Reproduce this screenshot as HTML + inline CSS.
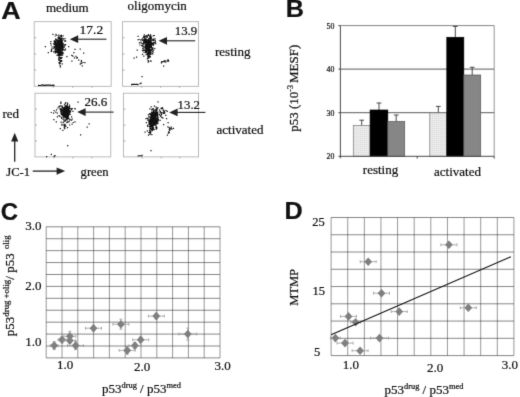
<!DOCTYPE html>
<html><head><meta charset="utf-8"><title>Figure</title>
<style>html,body{margin:0;padding:0;background:#fff;}svg{display:block;}text{font-family:"Liberation Serif", serif;fill:#111;stroke:#111;stroke-width:0.22px;}</style>
</head><body>
<svg width="520" height="397" viewBox="0 0 520 397">
<defs><filter id="soft" x="0" y="0" width="520" height="397" filterUnits="userSpaceOnUse" color-interpolation-filters="sRGB"><feConvolveMatrix order="3" kernelMatrix="0.0113 0.0838 0.0113 0.0838 0.6193 0.0838 0.0113 0.0838 0.0113" edgeMode="duplicate" preserveAlpha="true"/></filter></defs>
<g filter="url(#soft)">
<rect x="0" y="0" width="520" height="397" fill="#ffffff"/>
<text transform="translate(1.3,18.6) scale(1.12,1)" font-size="24" font-weight="bold" style='font-family:"Liberation Sans", sans-serif' fill="#000">A</text>
<text transform="translate(285.8,17.0) scale(1.05,1)" font-size="24" font-weight="bold" style='font-family:"Liberation Sans", sans-serif' fill="#000">B</text>
<text transform="translate(0.8,219.7) scale(1.00,1)" font-size="24" font-weight="bold" style='font-family:"Liberation Sans", sans-serif' fill="#000">C</text>
<text transform="translate(284.4,218.7) scale(1.05,1)" font-size="24" font-weight="bold" style='font-family:"Liberation Sans", sans-serif' fill="#000">D</text>
<rect x="34.2" y="21.7" width="77.0" height="64.6" fill="none" stroke="#aaaaaa" stroke-width="0.8"/>
<line x1="34.2" y1="37.8" x2="36.2" y2="37.8" stroke="#888" stroke-width="0.7"/>
<line x1="53.5" y1="86.3" x2="53.5" y2="87.8" stroke="#888" stroke-width="0.7"/>
<line x1="34.2" y1="54.0" x2="36.2" y2="54.0" stroke="#888" stroke-width="0.7"/>
<line x1="72.7" y1="86.3" x2="72.7" y2="87.8" stroke="#888" stroke-width="0.7"/>
<line x1="34.2" y1="70.1" x2="36.2" y2="70.1" stroke="#888" stroke-width="0.7"/>
<line x1="92.0" y1="86.3" x2="92.0" y2="87.8" stroke="#888" stroke-width="0.7"/>
<rect x="122.6" y="21.7" width="76.0" height="64.6" fill="none" stroke="#aaaaaa" stroke-width="0.8"/>
<line x1="122.6" y1="37.8" x2="124.6" y2="37.8" stroke="#888" stroke-width="0.7"/>
<line x1="141.6" y1="86.3" x2="141.6" y2="87.8" stroke="#888" stroke-width="0.7"/>
<line x1="122.6" y1="54.0" x2="124.6" y2="54.0" stroke="#888" stroke-width="0.7"/>
<line x1="160.6" y1="86.3" x2="160.6" y2="87.8" stroke="#888" stroke-width="0.7"/>
<line x1="122.6" y1="70.1" x2="124.6" y2="70.1" stroke="#888" stroke-width="0.7"/>
<line x1="179.6" y1="86.3" x2="179.6" y2="87.8" stroke="#888" stroke-width="0.7"/>
<rect x="35.0" y="93.2" width="75.8" height="63.7" fill="none" stroke="#aaaaaa" stroke-width="0.8"/>
<line x1="35.0" y1="109.1" x2="37.0" y2="109.1" stroke="#888" stroke-width="0.7"/>
<line x1="54.0" y1="156.9" x2="54.0" y2="158.4" stroke="#888" stroke-width="0.7"/>
<line x1="35.0" y1="125.1" x2="37.0" y2="125.1" stroke="#888" stroke-width="0.7"/>
<line x1="72.9" y1="156.9" x2="72.9" y2="158.4" stroke="#888" stroke-width="0.7"/>
<line x1="35.0" y1="141.0" x2="37.0" y2="141.0" stroke="#888" stroke-width="0.7"/>
<line x1="91.8" y1="156.9" x2="91.8" y2="158.4" stroke="#888" stroke-width="0.7"/>
<rect x="123.5" y="93.2" width="75.1" height="63.7" fill="none" stroke="#aaaaaa" stroke-width="0.8"/>
<line x1="123.5" y1="109.1" x2="125.5" y2="109.1" stroke="#888" stroke-width="0.7"/>
<line x1="142.3" y1="156.9" x2="142.3" y2="158.4" stroke="#888" stroke-width="0.7"/>
<line x1="123.5" y1="125.1" x2="125.5" y2="125.1" stroke="#888" stroke-width="0.7"/>
<line x1="161.1" y1="156.9" x2="161.1" y2="158.4" stroke="#888" stroke-width="0.7"/>
<line x1="123.5" y1="141.0" x2="125.5" y2="141.0" stroke="#888" stroke-width="0.7"/>
<line x1="179.8" y1="156.9" x2="179.8" y2="158.4" stroke="#888" stroke-width="0.7"/>
<path d="M58.1 47.2h1.2v1.2h-1.2zM58.1 44.0h1.2v1.2h-1.2zM56.6 44.4h1.2v1.2h-1.2zM60.9 46.9h1.2v1.2h-1.2zM60.8 46.2h1.2v1.2h-1.2zM59.4 45.9h1.2v1.2h-1.2zM55.1 48.5h1.2v1.2h-1.2zM59.7 47.1h1.2v1.2h-1.2zM55.0 38.4h1.2v1.2h-1.2zM56.7 43.4h1.2v1.2h-1.2zM59.2 45.0h1.2v1.2h-1.2zM59.7 42.7h1.2v1.2h-1.2zM59.2 46.7h1.2v1.2h-1.2zM57.2 51.9h1.2v1.2h-1.2zM59.8 49.9h1.2v1.2h-1.2zM57.3 42.3h1.2v1.2h-1.2zM57.9 44.8h1.2v1.2h-1.2zM59.9 46.2h1.2v1.2h-1.2zM57.7 41.5h1.2v1.2h-1.2zM57.5 50.0h1.2v1.2h-1.2zM56.9 46.2h1.2v1.2h-1.2zM59.5 39.4h1.2v1.2h-1.2zM58.7 50.3h1.2v1.2h-1.2zM54.4 43.9h1.2v1.2h-1.2zM58.4 42.0h1.2v1.2h-1.2zM59.6 45.0h1.2v1.2h-1.2zM55.5 48.4h1.2v1.2h-1.2zM60.0 48.9h1.2v1.2h-1.2zM61.6 46.6h1.2v1.2h-1.2zM58.9 40.1h1.2v1.2h-1.2zM59.9 42.8h1.2v1.2h-1.2zM57.6 40.3h1.2v1.2h-1.2zM56.6 43.1h1.2v1.2h-1.2zM61.3 37.3h1.2v1.2h-1.2zM55.5 46.1h1.2v1.2h-1.2zM61.6 47.5h1.2v1.2h-1.2zM54.6 35.4h1.2v1.2h-1.2zM59.4 42.3h1.2v1.2h-1.2zM56.2 49.0h1.2v1.2h-1.2zM60.9 45.8h1.2v1.2h-1.2zM59.1 46.9h1.2v1.2h-1.2zM61.9 47.6h1.2v1.2h-1.2zM59.7 47.3h1.2v1.2h-1.2zM55.3 50.2h1.2v1.2h-1.2zM60.6 47.3h1.2v1.2h-1.2zM54.5 42.7h1.2v1.2h-1.2zM60.4 38.1h1.2v1.2h-1.2zM58.2 49.2h1.2v1.2h-1.2zM55.8 51.5h1.2v1.2h-1.2zM59.8 44.6h1.2v1.2h-1.2zM59.3 47.7h1.2v1.2h-1.2zM58.9 49.7h1.2v1.2h-1.2zM57.2 43.6h1.2v1.2h-1.2zM60.8 45.3h1.2v1.2h-1.2zM56.8 48.9h1.2v1.2h-1.2zM61.7 43.5h1.2v1.2h-1.2zM55.7 44.7h1.2v1.2h-1.2zM58.3 44.0h1.2v1.2h-1.2zM61.6 41.2h1.2v1.2h-1.2zM61.2 40.3h1.2v1.2h-1.2zM56.9 47.7h1.2v1.2h-1.2zM61.0 48.6h1.2v1.2h-1.2zM59.3 45.8h1.2v1.2h-1.2zM58.9 47.4h1.2v1.2h-1.2zM58.2 46.3h1.2v1.2h-1.2zM59.8 45.2h1.2v1.2h-1.2zM60.2 47.4h1.2v1.2h-1.2zM62.8 46.5h1.2v1.2h-1.2zM57.7 43.7h1.2v1.2h-1.2zM58.6 48.8h1.2v1.2h-1.2zM57.9 46.7h1.2v1.2h-1.2zM62.5 35.2h1.2v1.2h-1.2zM56.2 46.2h1.2v1.2h-1.2zM59.4 46.1h1.2v1.2h-1.2zM57.7 47.8h1.2v1.2h-1.2zM59.2 43.2h1.2v1.2h-1.2zM63.7 46.6h1.2v1.2h-1.2zM57.4 44.8h1.2v1.2h-1.2zM58.1 45.0h1.2v1.2h-1.2zM52.9 43.3h1.2v1.2h-1.2zM60.7 40.6h1.2v1.2h-1.2zM58.5 48.9h1.2v1.2h-1.2zM60.4 51.0h1.2v1.2h-1.2zM55.0 43.8h1.2v1.2h-1.2zM57.9 47.6h1.2v1.2h-1.2zM60.9 34.7h1.2v1.2h-1.2zM60.9 39.6h1.2v1.2h-1.2zM60.0 39.4h1.2v1.2h-1.2zM59.0 49.9h1.2v1.2h-1.2zM58.3 45.9h1.2v1.2h-1.2zM60.3 45.8h1.2v1.2h-1.2zM58.4 51.2h1.2v1.2h-1.2zM60.8 44.1h1.2v1.2h-1.2zM64.4 40.7h1.2v1.2h-1.2zM60.5 44.2h1.2v1.2h-1.2zM58.9 47.9h1.2v1.2h-1.2zM59.1 47.7h1.2v1.2h-1.2zM55.4 39.3h1.2v1.2h-1.2zM59.9 41.4h1.2v1.2h-1.2zM56.4 39.5h1.2v1.2h-1.2zM61.3 48.1h1.2v1.2h-1.2zM61.7 41.5h1.2v1.2h-1.2zM58.6 40.8h1.2v1.2h-1.2zM60.2 51.4h1.2v1.2h-1.2zM56.7 51.3h1.2v1.2h-1.2zM60.7 44.5h1.2v1.2h-1.2zM54.5 50.7h1.2v1.2h-1.2zM58.4 42.8h1.2v1.2h-1.2zM59.4 46.8h1.2v1.2h-1.2zM61.7 41.2h1.2v1.2h-1.2zM61.0 51.0h1.2v1.2h-1.2zM61.6 44.5h1.2v1.2h-1.2zM57.0 49.2h1.2v1.2h-1.2zM58.8 45.7h1.2v1.2h-1.2zM61.6 44.2h1.2v1.2h-1.2zM53.8 43.7h1.2v1.2h-1.2zM54.7 48.4h1.2v1.2h-1.2zM59.3 42.8h1.2v1.2h-1.2zM58.6 48.4h1.2v1.2h-1.2zM58.8 50.4h1.2v1.2h-1.2zM58.5 49.3h1.2v1.2h-1.2zM61.7 51.5h1.2v1.2h-1.2zM57.2 48.6h1.2v1.2h-1.2zM54.7 41.0h1.2v1.2h-1.2zM54.5 49.4h1.2v1.2h-1.2zM56.0 45.2h1.2v1.2h-1.2zM58.2 45.1h1.2v1.2h-1.2zM57.4 46.1h1.2v1.2h-1.2zM62.4 45.4h1.2v1.2h-1.2zM59.7 49.1h1.2v1.2h-1.2zM58.2 40.3h1.2v1.2h-1.2zM57.4 49.4h1.2v1.2h-1.2zM55.1 42.9h1.2v1.2h-1.2zM60.7 48.3h1.2v1.2h-1.2zM58.6 48.3h1.2v1.2h-1.2zM58.9 40.6h1.2v1.2h-1.2zM55.3 42.7h1.2v1.2h-1.2zM60.5 43.0h1.2v1.2h-1.2zM56.7 42.2h1.2v1.2h-1.2zM55.4 44.7h1.2v1.2h-1.2zM56.1 46.6h1.2v1.2h-1.2zM53.6 46.5h1.2v1.2h-1.2zM57.3 37.6h1.2v1.2h-1.2zM60.1 44.1h1.2v1.2h-1.2zM53.9 41.8h1.2v1.2h-1.2zM59.2 43.4h1.2v1.2h-1.2zM60.2 48.1h1.2v1.2h-1.2zM60.0 46.5h1.2v1.2h-1.2zM61.4 47.8h1.2v1.2h-1.2zM59.5 37.1h1.2v1.2h-1.2zM60.5 50.3h1.2v1.2h-1.2zM58.0 43.4h1.2v1.2h-1.2zM62.7 38.3h1.2v1.2h-1.2zM59.6 54.7h1.2v1.2h-1.2zM56.7 47.9h1.2v1.2h-1.2zM62.6 44.7h1.2v1.2h-1.2zM59.8 48.7h1.2v1.2h-1.2zM56.7 44.9h1.2v1.2h-1.2zM59.2 48.4h1.2v1.2h-1.2zM58.5 44.4h1.2v1.2h-1.2zM56.5 43.8h1.2v1.2h-1.2zM60.5 45.6h1.2v1.2h-1.2zM56.8 41.9h1.2v1.2h-1.2zM64.2 49.6h1.2v1.2h-1.2zM59.9 35.1h1.2v1.2h-1.2zM59.9 47.1h1.2v1.2h-1.2zM62.1 46.9h1.2v1.2h-1.2zM58.5 47.2h1.2v1.2h-1.2zM54.5 49.2h1.2v1.2h-1.2zM59.3 42.5h1.2v1.2h-1.2zM61.4 52.3h1.2v1.2h-1.2zM55.7 42.6h1.2v1.2h-1.2zM59.2 45.9h1.2v1.2h-1.2zM57.8 41.4h1.2v1.2h-1.2zM63.1 49.2h1.2v1.2h-1.2zM56.1 40.0h1.2v1.2h-1.2zM62.2 49.1h1.2v1.2h-1.2zM62.4 48.4h1.2v1.2h-1.2zM56.8 46.2h1.2v1.2h-1.2zM54.1 42.3h1.2v1.2h-1.2zM58.5 47.2h1.2v1.2h-1.2zM57.1 44.7h1.2v1.2h-1.2zM59.6 46.7h1.2v1.2h-1.2zM59.9 46.0h1.2v1.2h-1.2zM57.9 48.3h1.2v1.2h-1.2zM58.7 42.0h1.2v1.2h-1.2zM57.3 45.2h1.2v1.2h-1.2zM58.4 45.8h1.2v1.2h-1.2zM58.6 45.9h1.2v1.2h-1.2zM58.3 40.3h1.2v1.2h-1.2zM59.5 49.3h1.2v1.2h-1.2zM59.5 44.5h1.2v1.2h-1.2zM59.5 41.4h1.2v1.2h-1.2zM54.6 45.4h1.2v1.2h-1.2zM56.6 48.1h1.2v1.2h-1.2zM56.3 34.9h1.2v1.2h-1.2zM56.4 51.4h1.2v1.2h-1.2zM57.8 39.9h1.2v1.2h-1.2zM57.0 47.2h1.2v1.2h-1.2zM59.6 45.9h1.2v1.2h-1.2zM61.7 48.0h1.2v1.2h-1.2zM58.6 47.5h1.2v1.2h-1.2zM62.1 49.0h1.2v1.2h-1.2zM60.7 41.0h1.2v1.2h-1.2zM58.3 48.0h1.2v1.2h-1.2zM58.0 49.4h1.2v1.2h-1.2zM59.9 48.7h1.2v1.2h-1.2zM58.2 55.1h1.2v1.2h-1.2zM61.2 44.4h1.2v1.2h-1.2zM58.8 55.3h1.2v1.2h-1.2zM57.9 48.6h1.2v1.2h-1.2zM60.7 45.2h1.2v1.2h-1.2zM56.1 45.9h1.2v1.2h-1.2zM59.4 49.6h1.2v1.2h-1.2zM60.2 45.3h1.2v1.2h-1.2zM60.4 47.3h1.2v1.2h-1.2zM59.0 45.4h1.2v1.2h-1.2zM58.1 47.9h1.2v1.2h-1.2zM56.4 42.7h1.2v1.2h-1.2zM58.6 39.5h1.2v1.2h-1.2zM57.7 37.4h1.2v1.2h-1.2zM57.2 47.4h1.2v1.2h-1.2zM59.8 45.0h1.2v1.2h-1.2zM58.1 39.7h1.2v1.2h-1.2zM62.4 47.2h1.2v1.2h-1.2zM60.9 41.8h1.2v1.2h-1.2zM58.2 38.1h1.2v1.2h-1.2zM60.2 48.8h1.2v1.2h-1.2zM54.6 45.0h1.2v1.2h-1.2zM59.9 38.3h1.2v1.2h-1.2zM54.8 41.0h1.2v1.2h-1.2zM57.3 39.7h1.2v1.2h-1.2zM58.7 46.2h1.2v1.2h-1.2zM59.9 47.9h1.2v1.2h-1.2zM61.8 49.7h1.2v1.2h-1.2zM55.8 43.2h1.2v1.2h-1.2zM56.4 41.0h1.2v1.2h-1.2zM58.4 45.2h1.2v1.2h-1.2zM59.6 39.0h1.2v1.2h-1.2zM56.0 45.1h1.2v1.2h-1.2zM58.2 44.0h1.2v1.2h-1.2zM58.5 42.2h1.2v1.2h-1.2zM60.1 46.6h1.2v1.2h-1.2zM58.4 42.6h1.2v1.2h-1.2zM58.2 34.6h1.2v1.2h-1.2zM56.5 45.3h1.2v1.2h-1.2zM55.4 46.0h1.2v1.2h-1.2zM58.9 39.8h1.2v1.2h-1.2zM58.1 44.0h1.2v1.2h-1.2zM59.6 47.6h1.2v1.2h-1.2zM58.5 41.9h1.2v1.2h-1.2zM58.3 44.9h1.2v1.2h-1.2zM60.1 46.3h1.2v1.2h-1.2zM57.1 39.9h1.2v1.2h-1.2zM57.8 42.3h1.2v1.2h-1.2zM56.3 44.7h1.2v1.2h-1.2zM57.6 45.6h1.2v1.2h-1.2zM59.7 43.6h1.2v1.2h-1.2zM63.5 43.9h1.2v1.2h-1.2zM60.9 45.7h1.2v1.2h-1.2zM60.9 35.9h1.2v1.2h-1.2zM57.0 46.2h1.2v1.2h-1.2zM59.9 54.3h1.2v1.2h-1.2zM59.3 50.2h1.2v1.2h-1.2zM60.2 48.9h1.2v1.2h-1.2zM59.7 44.6h1.2v1.2h-1.2zM59.7 41.0h1.2v1.2h-1.2zM61.1 41.2h1.2v1.2h-1.2zM59.1 53.5h1.2v1.2h-1.2zM58.1 45.3h1.2v1.2h-1.2zM61.0 45.3h1.2v1.2h-1.2zM56.9 46.2h1.2v1.2h-1.2zM59.8 48.0h1.2v1.2h-1.2zM57.0 52.0h1.2v1.2h-1.2zM62.1 45.3h1.2v1.2h-1.2zM59.2 43.5h1.2v1.2h-1.2zM61.6 42.5h1.2v1.2h-1.2zM60.0 43.3h1.2v1.2h-1.2zM57.1 48.0h1.2v1.2h-1.2zM61.4 45.2h1.2v1.2h-1.2zM57.2 48.4h1.2v1.2h-1.2zM58.5 46.4h1.2v1.2h-1.2zM61.8 49.6h1.2v1.2h-1.2zM57.5 54.1h1.2v1.2h-1.2zM58.6 48.3h1.2v1.2h-1.2zM57.2 45.0h1.2v1.2h-1.2zM54.9 52.2h1.2v1.2h-1.2zM61.5 40.5h1.2v1.2h-1.2zM55.4 38.9h1.2v1.2h-1.2zM61.1 43.4h1.2v1.2h-1.2zM58.5 44.0h1.2v1.2h-1.2zM58.3 41.0h1.2v1.2h-1.2zM58.7 39.6h1.2v1.2h-1.2zM58.4 46.4h1.2v1.2h-1.2zM59.6 44.3h1.2v1.2h-1.2zM56.7 45.8h1.2v1.2h-1.2zM57.6 51.3h1.2v1.2h-1.2zM60.2 44.8h1.2v1.2h-1.2zM57.6 42.5h1.2v1.2h-1.2zM56.6 43.8h1.2v1.2h-1.2zM59.2 47.2h1.2v1.2h-1.2zM59.8 53.4h1.2v1.2h-1.2zM57.1 45.3h1.2v1.2h-1.2zM64.5 37.9h1.2v1.2h-1.2zM57.5 45.9h1.2v1.2h-1.2zM58.9 46.8h1.2v1.2h-1.2zM58.1 46.6h1.2v1.2h-1.2zM58.7 48.2h1.2v1.2h-1.2zM54.6 41.7h1.2v1.2h-1.2zM58.6 41.2h1.2v1.2h-1.2zM56.4 47.6h1.2v1.2h-1.2zM57.2 47.7h1.2v1.2h-1.2zM60.2 46.4h1.2v1.2h-1.2zM59.7 44.8h1.2v1.2h-1.2zM55.6 45.1h1.2v1.2h-1.2zM59.6 43.1h1.2v1.2h-1.2zM58.4 48.1h1.2v1.2h-1.2zM56.8 47.7h1.2v1.2h-1.2zM62.5 43.0h1.2v1.2h-1.2zM58.9 44.6h1.2v1.2h-1.2zM61.8 46.4h1.2v1.2h-1.2zM60.5 42.5h1.2v1.2h-1.2zM58.6 45.2h1.2v1.2h-1.2zM54.9 50.8h1.2v1.2h-1.2zM60.5 38.4h1.2v1.2h-1.2zM60.2 44.7h1.2v1.2h-1.2zM59.5 46.6h1.2v1.2h-1.2zM55.5 44.4h1.2v1.2h-1.2zM61.7 43.0h1.2v1.2h-1.2zM56.5 39.9h1.2v1.2h-1.2zM57.4 46.4h1.2v1.2h-1.2zM60.9 46.7h1.2v1.2h-1.2zM59.2 51.8h1.2v1.2h-1.2zM58.3 43.6h1.2v1.2h-1.2zM59.5 47.0h1.2v1.2h-1.2zM57.7 42.2h1.2v1.2h-1.2zM59.2 46.2h1.2v1.2h-1.2zM57.3 44.9h1.2v1.2h-1.2zM58.2 46.8h1.2v1.2h-1.2zM58.8 45.3h1.2v1.2h-1.2zM58.5 48.4h1.2v1.2h-1.2zM60.6 44.5h1.2v1.2h-1.2zM59.9 43.4h1.2v1.2h-1.2zM59.0 47.6h1.2v1.2h-1.2zM60.7 44.4h1.2v1.2h-1.2zM58.8 46.0h1.2v1.2h-1.2zM57.1 45.5h1.2v1.2h-1.2zM58.1 46.5h1.2v1.2h-1.2zM57.5 40.0h1.2v1.2h-1.2zM58.9 46.2h1.2v1.2h-1.2zM58.2 48.0h1.2v1.2h-1.2zM58.6 43.8h1.2v1.2h-1.2zM59.5 41.1h1.2v1.2h-1.2zM58.1 45.4h1.2v1.2h-1.2zM59.9 45.0h1.2v1.2h-1.2zM59.3 43.7h1.2v1.2h-1.2zM59.3 50.2h1.2v1.2h-1.2zM58.1 52.1h1.2v1.2h-1.2zM58.1 45.5h1.2v1.2h-1.2zM59.1 48.4h1.2v1.2h-1.2zM57.4 39.6h1.2v1.2h-1.2zM59.6 47.7h1.2v1.2h-1.2zM59.6 52.9h1.2v1.2h-1.2zM59.1 46.2h1.2v1.2h-1.2zM60.0 46.5h1.2v1.2h-1.2zM60.9 42.0h1.2v1.2h-1.2zM58.4 35.9h1.2v1.2h-1.2zM59.9 44.5h1.2v1.2h-1.2zM60.0 51.5h1.2v1.2h-1.2zM58.9 44.8h1.2v1.2h-1.2zM58.3 43.2h1.2v1.2h-1.2zM58.1 47.3h1.2v1.2h-1.2zM58.9 45.7h1.2v1.2h-1.2zM58.7 48.1h1.2v1.2h-1.2zM59.5 45.1h1.2v1.2h-1.2zM59.7 45.1h1.2v1.2h-1.2zM57.5 49.6h1.2v1.2h-1.2zM59.5 42.8h1.2v1.2h-1.2zM60.2 46.5h1.2v1.2h-1.2zM57.0 50.0h1.2v1.2h-1.2zM59.3 48.0h1.2v1.2h-1.2zM59.1 45.1h1.2v1.2h-1.2zM57.0 48.2h1.2v1.2h-1.2zM58.9 44.7h1.2v1.2h-1.2zM59.3 45.7h1.2v1.2h-1.2zM59.7 44.5h1.2v1.2h-1.2zM58.9 39.5h1.2v1.2h-1.2zM58.4 47.4h1.2v1.2h-1.2zM60.5 44.5h1.2v1.2h-1.2zM58.8 49.9h1.2v1.2h-1.2zM58.5 47.6h1.2v1.2h-1.2zM60.9 45.6h1.2v1.2h-1.2zM60.4 43.5h1.2v1.2h-1.2zM59.1 45.3h1.2v1.2h-1.2zM59.0 48.7h1.2v1.2h-1.2zM61.8 43.6h1.2v1.2h-1.2zM58.2 46.9h1.2v1.2h-1.2zM57.6 46.9h1.2v1.2h-1.2zM59.6 44.7h1.2v1.2h-1.2zM59.5 41.2h1.2v1.2h-1.2zM59.8 41.2h1.2v1.2h-1.2zM58.1 43.9h1.2v1.2h-1.2zM58.4 47.9h1.2v1.2h-1.2zM59.0 44.4h1.2v1.2h-1.2zM59.6 49.9h1.2v1.2h-1.2zM58.9 46.5h1.2v1.2h-1.2zM60.4 46.2h1.2v1.2h-1.2zM57.4 52.5h1.2v1.2h-1.2zM61.6 39.9h1.2v1.2h-1.2zM58.9 46.7h1.2v1.2h-1.2zM60.1 47.4h1.2v1.2h-1.2zM58.6 42.5h1.2v1.2h-1.2zM59.0 48.4h1.2v1.2h-1.2zM57.6 42.6h1.2v1.2h-1.2zM58.9 40.1h1.2v1.2h-1.2zM58.6 44.3h1.2v1.2h-1.2zM59.4 43.5h1.2v1.2h-1.2zM57.8 44.4h1.2v1.2h-1.2zM58.8 43.6h1.2v1.2h-1.2zM58.9 47.6h1.2v1.2h-1.2zM60.3 50.3h1.2v1.2h-1.2zM58.0 44.3h1.2v1.2h-1.2zM55.9 50.8h1.2v1.2h-1.2zM58.0 45.4h1.2v1.2h-1.2zM59.5 41.7h1.2v1.2h-1.2zM59.5 45.4h1.2v1.2h-1.2zM56.7 46.3h1.2v1.2h-1.2zM60.3 40.3h1.2v1.2h-1.2zM59.9 46.1h1.2v1.2h-1.2zM59.5 46.7h1.2v1.2h-1.2zM60.5 44.9h1.2v1.2h-1.2zM59.9 44.4h1.2v1.2h-1.2zM59.8 43.2h1.2v1.2h-1.2zM58.8 50.3h1.2v1.2h-1.2zM59.4 45.1h1.2v1.2h-1.2zM57.5 43.3h1.2v1.2h-1.2zM59.1 48.1h1.2v1.2h-1.2zM59.4 47.0h1.2v1.2h-1.2zM58.8 49.3h1.2v1.2h-1.2zM58.4 44.0h1.2v1.2h-1.2zM60.0 45.7h1.2v1.2h-1.2zM58.6 43.9h1.2v1.2h-1.2zM58.6 47.2h1.2v1.2h-1.2zM59.3 42.1h1.2v1.2h-1.2zM59.4 46.0h1.2v1.2h-1.2zM57.7 47.7h1.2v1.2h-1.2zM58.6 44.6h1.2v1.2h-1.2zM59.9 49.2h1.2v1.2h-1.2zM58.1 46.7h1.2v1.2h-1.2zM57.8 52.0h1.2v1.2h-1.2zM58.3 48.8h1.2v1.2h-1.2zM58.1 47.8h1.2v1.2h-1.2zM61.6 38.4h1.2v1.2h-1.2zM58.4 46.9h1.2v1.2h-1.2zM58.8 43.6h1.2v1.2h-1.2zM61.5 45.7h1.2v1.2h-1.2zM56.9 47.9h1.2v1.2h-1.2zM56.8 48.7h1.2v1.2h-1.2zM58.2 45.9h1.2v1.2h-1.2zM60.4 45.8h1.2v1.2h-1.2zM57.2 40.8h1.2v1.2h-1.2zM60.3 47.6h1.2v1.2h-1.2zM57.9 47.9h1.2v1.2h-1.2zM59.5 47.3h1.2v1.2h-1.2zM56.2 44.7h1.2v1.2h-1.2zM60.0 47.6h1.2v1.2h-1.2zM60.0 38.6h1.2v1.2h-1.2zM59.1 46.9h1.2v1.2h-1.2zM62.0 42.8h1.2v1.2h-1.2zM58.5 45.6h1.2v1.2h-1.2zM58.1 57.5h1.2v1.2h-1.2zM59.1 51.0h1.2v1.2h-1.2zM58.2 50.5h1.2v1.2h-1.2zM58.5 55.6h1.2v1.2h-1.2zM59.0 63.2h1.2v1.2h-1.2zM59.8 60.5h1.2v1.2h-1.2zM60.9 59.9h1.2v1.2h-1.2zM60.4 55.0h1.2v1.2h-1.2zM58.3 59.5h1.2v1.2h-1.2zM59.6 60.0h1.2v1.2h-1.2zM60.2 52.4h1.2v1.2h-1.2zM59.6 64.9h1.2v1.2h-1.2zM58.4 59.0h1.2v1.2h-1.2zM59.2 51.4h1.2v1.2h-1.2zM58.5 55.1h1.2v1.2h-1.2zM58.9 61.8h1.2v1.2h-1.2zM58.8 59.2h1.2v1.2h-1.2zM59.9 57.2h1.2v1.2h-1.2zM60.3 57.5h1.2v1.2h-1.2zM60.2 50.2h1.2v1.2h-1.2zM57.9 52.3h1.2v1.2h-1.2zM58.0 52.9h1.2v1.2h-1.2zM58.1 50.5h1.2v1.2h-1.2zM60.0 50.2h1.2v1.2h-1.2zM61.2 60.6h1.2v1.2h-1.2zM60.1 60.9h1.2v1.2h-1.2zM56.7 50.5h1.2v1.2h-1.2zM59.6 59.9h1.2v1.2h-1.2zM59.9 66.3h1.2v1.2h-1.2zM58.4 62.3h1.2v1.2h-1.2zM59.0 52.8h1.2v1.2h-1.2zM58.2 54.1h1.2v1.2h-1.2zM59.3 54.9h1.2v1.2h-1.2zM55.2 52.3h1.2v1.2h-1.2zM58.7 58.7h1.2v1.2h-1.2zM56.5 54.7h1.2v1.2h-1.2zM59.7 56.9h1.2v1.2h-1.2zM59.6 51.9h1.2v1.2h-1.2zM61.3 56.9h1.2v1.2h-1.2zM60.2 52.2h1.2v1.2h-1.2zM60.2 50.3h1.2v1.2h-1.2zM60.3 60.8h1.2v1.2h-1.2zM59.8 62.6h1.2v1.2h-1.2zM58.9 61.9h1.2v1.2h-1.2zM61.2 54.2h1.2v1.2h-1.2zM58.8 50.6h1.2v1.2h-1.2zM59.8 53.9h1.2v1.2h-1.2zM59.6 66.4h1.2v1.2h-1.2zM58.2 59.2h1.2v1.2h-1.2zM61.9 54.6h1.2v1.2h-1.2zM61.6 63.2h1.2v1.2h-1.2zM60.8 57.7h1.2v1.2h-1.2zM60.9 57.6h1.2v1.2h-1.2zM58.5 56.9h1.2v1.2h-1.2zM58.6 54.2h1.2v1.2h-1.2zM60.5 51.4h1.2v1.2h-1.2zM60.6 51.2h1.2v1.2h-1.2zM60.6 51.6h1.2v1.2h-1.2zM58.4 53.3h1.2v1.2h-1.2zM59.5 58.4h1.2v1.2h-1.2zM60.6 48.2h1.2v1.2h-1.2zM65.0 44.0h1.2v1.2h-1.2zM56.5 39.2h1.2v1.2h-1.2zM59.1 52.4h1.2v1.2h-1.2zM59.4 47.3h1.2v1.2h-1.2zM56.1 45.9h1.2v1.2h-1.2zM50.6 50.8h1.2v1.2h-1.2zM55.2 38.9h1.2v1.2h-1.2zM53.6 40.5h1.2v1.2h-1.2zM60.8 50.8h1.2v1.2h-1.2zM50.9 50.1h1.2v1.2h-1.2zM61.0 41.8h1.2v1.2h-1.2zM50.3 40.9h1.2v1.2h-1.2zM54.1 46.9h1.2v1.2h-1.2zM55.4 33.8h1.2v1.2h-1.2zM58.1 36.6h1.2v1.2h-1.2zM61.1 38.4h1.2v1.2h-1.2zM53.9 40.3h1.2v1.2h-1.2zM54.6 52.1h1.2v1.2h-1.2zM60.8 48.3h1.2v1.2h-1.2zM58.4 36.5h1.2v1.2h-1.2zM54.7 42.0h1.2v1.2h-1.2zM52.6 47.8h1.2v1.2h-1.2zM53.7 41.1h1.2v1.2h-1.2zM52.3 33.7h1.2v1.2h-1.2zM59.7 52.3h1.2v1.2h-1.2zM57.8 39.6h1.2v1.2h-1.2zM44.8 46.0h1.2v1.2h-1.2zM62.5 46.6h1.2v1.2h-1.2zM61.2 53.1h1.2v1.2h-1.2zM62.1 42.6h1.2v1.2h-1.2zM61.7 49.3h1.2v1.2h-1.2zM50.1 42.8h1.2v1.2h-1.2zM50.6 44.4h1.2v1.2h-1.2zM59.6 39.1h1.2v1.2h-1.2zM47.7 52.1h1.2v1.2h-1.2zM58.7 53.1h1.2v1.2h-1.2zM51.0 50.8h1.2v1.2h-1.2zM66.3 56.0h1.2v1.2h-1.2zM56.1 46.5h1.2v1.2h-1.2zM56.3 50.5h1.2v1.2h-1.2zM61.7 45.5h1.2v1.2h-1.2zM50.9 49.1h1.2v1.2h-1.2zM54.9 48.5h1.2v1.2h-1.2zM58.2 53.9h1.2v1.2h-1.2zM62.1 42.5h1.2v1.2h-1.2zM58.6 54.7h1.2v1.2h-1.2zM54.6 47.4h1.2v1.2h-1.2zM62.4 51.9h1.2v1.2h-1.2zM59.3 37.7h1.2v1.2h-1.2zM51.3 46.4h1.2v1.2h-1.2zM58.7 59.0h1.2v1.2h-1.2zM53.1 51.3h1.2v1.2h-1.2zM60.5 35.8h1.2v1.2h-1.2zM53.3 45.9h1.2v1.2h-1.2zM54.8 44.2h1.2v1.2h-1.2zM59.1 40.5h1.2v1.2h-1.2zM59.1 41.5h1.2v1.2h-1.2zM54.5 48.0h1.2v1.2h-1.2zM54.4 46.6h1.2v1.2h-1.2zM64.2 45.1h1.2v1.2h-1.2zM56.3 49.0h1.2v1.2h-1.2zM55.4 51.0h1.2v1.2h-1.2zM51.2 48.4h1.2v1.2h-1.2zM54.7 40.6h1.2v1.2h-1.2zM65.0 40.3h1.2v1.2h-1.2zM64.9 48.6h1.2v1.2h-1.2zM63.5 39.6h1.2v1.2h-1.2zM62.4 53.0h1.2v1.2h-1.2zM56.5 44.3h1.2v1.2h-1.2zM68.1 46.0h1.2v1.2h-1.2zM55.1 41.5h1.2v1.2h-1.2zM59.0 46.8h1.2v1.2h-1.2zM57.8 54.5h1.2v1.2h-1.2zM55.5 47.6h1.2v1.2h-1.2zM83.1 52.5h1.2v1.2h-1.2zM81.6 65.2h1.2v1.2h-1.2zM73.3 52.1h1.2v1.2h-1.2zM74.4 48.7h1.2v1.2h-1.2zM79.6 48.6h1.2v1.2h-1.2zM79.7 63.5h1.2v1.2h-1.2zM72.3 55.6h1.2v1.2h-1.2zM71.3 60.5h1.2v1.2h-1.2zM75.4 55.8h1.2v1.2h-1.2zM78.2 59.5h1.2v1.2h-1.2zM76.8 57.1h1.2v1.2h-1.2zM76.1 57.5h1.2v1.2h-1.2zM73.9 57.3h1.2v1.2h-1.2zM71.2 54.8h1.2v1.2h-1.2zM84.3 62.1h1.2v1.2h-1.2zM80.5 62.3h1.2v1.2h-1.2zM80.8 60.0h1.2v1.2h-1.2zM81.1 62.9h1.2v1.2h-1.2zM82.5 61.9h1.2v1.2h-1.2zM80.9 60.7h1.2v1.2h-1.2zM38.0 84.7h1.2v1.2h-1.2zM39.2 84.9h1.2v1.2h-1.2zM39.9 84.9h1.2v1.2h-1.2zM40.9 84.6h1.2v1.2h-1.2zM42.0 84.3h1.2v1.2h-1.2zM42.8 84.7h1.2v1.2h-1.2zM43.5 84.8h1.2v1.2h-1.2zM44.4 84.6h1.2v1.2h-1.2zM45.4 84.8h1.2v1.2h-1.2zM46.2 84.6h1.2v1.2h-1.2zM47.2 84.6h1.2v1.2h-1.2zM48.2 84.5h1.2v1.2h-1.2zM49.1 84.5h1.2v1.2h-1.2zM49.9 84.5h1.2v1.2h-1.2zM50.8 84.9h1.2v1.2h-1.2zM51.8 84.8h1.2v1.2h-1.2zM52.5 84.5h1.2v1.2h-1.2zM53.4 84.7h1.2v1.2h-1.2z" fill="#111"/>
<path d="M145.0 39.0h1.2v1.2h-1.2zM151.0 46.8h1.2v1.2h-1.2zM149.7 41.2h1.2v1.2h-1.2zM149.4 46.2h1.2v1.2h-1.2zM149.0 45.1h1.2v1.2h-1.2zM150.3 42.0h1.2v1.2h-1.2zM145.5 38.2h1.2v1.2h-1.2zM150.2 41.6h1.2v1.2h-1.2zM145.3 40.7h1.2v1.2h-1.2zM146.6 39.2h1.2v1.2h-1.2zM147.0 42.1h1.2v1.2h-1.2zM146.4 40.6h1.2v1.2h-1.2zM147.7 42.9h1.2v1.2h-1.2zM147.9 46.1h1.2v1.2h-1.2zM148.3 34.9h1.2v1.2h-1.2zM146.4 41.3h1.2v1.2h-1.2zM149.3 37.7h1.2v1.2h-1.2zM146.0 43.6h1.2v1.2h-1.2zM146.9 49.6h1.2v1.2h-1.2zM146.6 49.4h1.2v1.2h-1.2zM144.4 36.7h1.2v1.2h-1.2zM150.3 47.0h1.2v1.2h-1.2zM148.7 45.6h1.2v1.2h-1.2zM148.7 39.4h1.2v1.2h-1.2zM149.7 42.6h1.2v1.2h-1.2zM149.8 45.4h1.2v1.2h-1.2zM143.3 39.1h1.2v1.2h-1.2zM150.1 44.4h1.2v1.2h-1.2zM146.7 46.1h1.2v1.2h-1.2zM146.7 42.5h1.2v1.2h-1.2zM147.8 45.7h1.2v1.2h-1.2zM150.9 45.2h1.2v1.2h-1.2zM151.7 53.3h1.2v1.2h-1.2zM151.4 49.9h1.2v1.2h-1.2zM147.9 45.6h1.2v1.2h-1.2zM147.3 41.6h1.2v1.2h-1.2zM147.5 42.1h1.2v1.2h-1.2zM151.2 47.5h1.2v1.2h-1.2zM146.6 36.2h1.2v1.2h-1.2zM147.5 43.1h1.2v1.2h-1.2zM145.2 39.8h1.2v1.2h-1.2zM142.6 47.6h1.2v1.2h-1.2zM147.5 56.9h1.2v1.2h-1.2zM147.5 44.3h1.2v1.2h-1.2zM150.8 45.6h1.2v1.2h-1.2zM148.0 43.3h1.2v1.2h-1.2zM146.3 51.9h1.2v1.2h-1.2zM149.8 52.9h1.2v1.2h-1.2zM146.8 45.1h1.2v1.2h-1.2zM145.7 49.4h1.2v1.2h-1.2zM144.5 47.6h1.2v1.2h-1.2zM150.0 51.5h1.2v1.2h-1.2zM145.5 50.0h1.2v1.2h-1.2zM146.0 41.5h1.2v1.2h-1.2zM144.7 50.3h1.2v1.2h-1.2zM151.2 42.3h1.2v1.2h-1.2zM145.9 43.4h1.2v1.2h-1.2zM153.1 49.6h1.2v1.2h-1.2zM146.4 36.7h1.2v1.2h-1.2zM146.1 50.5h1.2v1.2h-1.2zM151.7 43.8h1.2v1.2h-1.2zM146.1 42.7h1.2v1.2h-1.2zM143.5 49.2h1.2v1.2h-1.2zM145.2 49.9h1.2v1.2h-1.2zM143.8 39.2h1.2v1.2h-1.2zM148.2 41.5h1.2v1.2h-1.2zM149.3 45.0h1.2v1.2h-1.2zM145.0 47.9h1.2v1.2h-1.2zM149.5 36.2h1.2v1.2h-1.2zM151.6 47.3h1.2v1.2h-1.2zM149.3 36.4h1.2v1.2h-1.2zM146.0 43.4h1.2v1.2h-1.2zM150.0 38.3h1.2v1.2h-1.2zM145.7 35.7h1.2v1.2h-1.2zM147.1 46.6h1.2v1.2h-1.2zM143.9 42.3h1.2v1.2h-1.2zM148.7 52.3h1.2v1.2h-1.2zM149.1 43.6h1.2v1.2h-1.2zM145.0 40.7h1.2v1.2h-1.2zM146.1 45.7h1.2v1.2h-1.2zM147.5 52.7h1.2v1.2h-1.2zM148.2 40.1h1.2v1.2h-1.2zM151.0 49.4h1.2v1.2h-1.2zM147.8 41.7h1.2v1.2h-1.2zM143.5 40.3h1.2v1.2h-1.2zM149.6 41.3h1.2v1.2h-1.2zM144.7 45.9h1.2v1.2h-1.2zM148.1 47.8h1.2v1.2h-1.2zM149.0 51.5h1.2v1.2h-1.2zM145.8 49.5h1.2v1.2h-1.2zM145.4 48.2h1.2v1.2h-1.2zM148.0 46.1h1.2v1.2h-1.2zM149.7 44.9h1.2v1.2h-1.2zM150.0 49.0h1.2v1.2h-1.2zM147.9 42.4h1.2v1.2h-1.2zM145.9 42.6h1.2v1.2h-1.2zM147.2 44.9h1.2v1.2h-1.2zM154.2 47.9h1.2v1.2h-1.2zM149.3 41.0h1.2v1.2h-1.2zM146.0 43.5h1.2v1.2h-1.2zM148.0 40.2h1.2v1.2h-1.2zM151.1 42.4h1.2v1.2h-1.2zM150.0 34.3h1.2v1.2h-1.2zM147.6 46.3h1.2v1.2h-1.2zM148.0 47.8h1.2v1.2h-1.2zM148.2 45.7h1.2v1.2h-1.2zM143.4 41.7h1.2v1.2h-1.2zM142.4 47.9h1.2v1.2h-1.2zM148.3 44.1h1.2v1.2h-1.2zM145.8 42.3h1.2v1.2h-1.2zM151.7 53.0h1.2v1.2h-1.2zM147.5 50.9h1.2v1.2h-1.2zM144.1 36.1h1.2v1.2h-1.2zM146.5 41.0h1.2v1.2h-1.2zM146.4 45.9h1.2v1.2h-1.2zM154.3 42.0h1.2v1.2h-1.2zM147.7 46.3h1.2v1.2h-1.2zM147.5 49.3h1.2v1.2h-1.2zM151.5 39.3h1.2v1.2h-1.2zM148.0 43.8h1.2v1.2h-1.2zM148.4 38.0h1.2v1.2h-1.2zM143.7 34.3h1.2v1.2h-1.2zM148.8 45.9h1.2v1.2h-1.2zM147.8 34.1h1.2v1.2h-1.2zM146.8 41.5h1.2v1.2h-1.2zM144.5 40.8h1.2v1.2h-1.2zM149.1 47.5h1.2v1.2h-1.2zM147.6 47.4h1.2v1.2h-1.2zM146.3 45.3h1.2v1.2h-1.2zM147.7 47.6h1.2v1.2h-1.2zM147.4 44.3h1.2v1.2h-1.2zM147.3 42.0h1.2v1.2h-1.2zM152.5 47.4h1.2v1.2h-1.2zM148.5 55.5h1.2v1.2h-1.2zM150.7 37.8h1.2v1.2h-1.2zM149.1 48.9h1.2v1.2h-1.2zM151.7 51.1h1.2v1.2h-1.2zM149.3 39.6h1.2v1.2h-1.2zM145.7 46.2h1.2v1.2h-1.2zM148.7 40.3h1.2v1.2h-1.2zM146.8 43.2h1.2v1.2h-1.2zM147.7 46.5h1.2v1.2h-1.2zM147.0 39.3h1.2v1.2h-1.2zM150.3 52.3h1.2v1.2h-1.2zM147.4 49.7h1.2v1.2h-1.2zM148.6 48.0h1.2v1.2h-1.2zM148.7 41.5h1.2v1.2h-1.2zM148.9 49.6h1.2v1.2h-1.2zM145.6 54.0h1.2v1.2h-1.2zM152.2 53.4h1.2v1.2h-1.2zM152.0 48.4h1.2v1.2h-1.2zM146.9 42.2h1.2v1.2h-1.2zM145.8 45.5h1.2v1.2h-1.2zM147.5 48.1h1.2v1.2h-1.2zM143.2 55.6h1.2v1.2h-1.2zM152.6 44.9h1.2v1.2h-1.2zM149.1 47.2h1.2v1.2h-1.2zM148.2 44.0h1.2v1.2h-1.2zM147.3 41.2h1.2v1.2h-1.2zM148.0 44.9h1.2v1.2h-1.2zM148.3 41.1h1.2v1.2h-1.2zM147.7 45.2h1.2v1.2h-1.2zM148.9 40.1h1.2v1.2h-1.2zM148.5 49.5h1.2v1.2h-1.2zM148.9 43.3h1.2v1.2h-1.2zM146.5 43.9h1.2v1.2h-1.2zM149.2 52.1h1.2v1.2h-1.2zM147.3 42.0h1.2v1.2h-1.2zM148.4 45.9h1.2v1.2h-1.2zM145.6 41.6h1.2v1.2h-1.2zM147.4 48.1h1.2v1.2h-1.2zM145.0 40.3h1.2v1.2h-1.2zM148.7 39.4h1.2v1.2h-1.2zM147.8 46.6h1.2v1.2h-1.2zM147.4 40.3h1.2v1.2h-1.2zM147.5 43.5h1.2v1.2h-1.2zM148.3 41.1h1.2v1.2h-1.2zM150.0 37.3h1.2v1.2h-1.2zM147.2 45.0h1.2v1.2h-1.2zM149.7 42.2h1.2v1.2h-1.2zM148.8 42.4h1.2v1.2h-1.2zM149.2 53.0h1.2v1.2h-1.2zM146.7 47.0h1.2v1.2h-1.2zM145.6 49.5h1.2v1.2h-1.2zM150.3 45.2h1.2v1.2h-1.2zM145.1 46.9h1.2v1.2h-1.2zM150.1 50.0h1.2v1.2h-1.2zM149.4 36.6h1.2v1.2h-1.2zM146.1 51.5h1.2v1.2h-1.2zM144.9 50.2h1.2v1.2h-1.2zM151.7 48.5h1.2v1.2h-1.2zM150.1 43.5h1.2v1.2h-1.2zM144.9 44.5h1.2v1.2h-1.2zM147.2 44.8h1.2v1.2h-1.2zM149.1 44.3h1.2v1.2h-1.2zM148.0 47.0h1.2v1.2h-1.2zM147.6 53.5h1.2v1.2h-1.2zM148.6 45.4h1.2v1.2h-1.2zM147.1 42.1h1.2v1.2h-1.2zM150.6 45.7h1.2v1.2h-1.2zM145.2 42.4h1.2v1.2h-1.2zM147.3 43.0h1.2v1.2h-1.2zM150.0 39.7h1.2v1.2h-1.2zM148.7 45.7h1.2v1.2h-1.2zM145.0 45.2h1.2v1.2h-1.2zM147.4 47.3h1.2v1.2h-1.2zM146.6 46.4h1.2v1.2h-1.2zM143.9 40.0h1.2v1.2h-1.2zM149.3 49.8h1.2v1.2h-1.2zM147.6 42.2h1.2v1.2h-1.2zM150.0 35.4h1.2v1.2h-1.2zM145.8 48.1h1.2v1.2h-1.2zM149.0 40.3h1.2v1.2h-1.2zM143.4 51.7h1.2v1.2h-1.2zM147.9 40.9h1.2v1.2h-1.2zM147.7 49.1h1.2v1.2h-1.2zM141.9 50.1h1.2v1.2h-1.2zM149.2 35.4h1.2v1.2h-1.2zM149.3 36.8h1.2v1.2h-1.2zM150.1 46.8h1.2v1.2h-1.2zM152.6 42.2h1.2v1.2h-1.2zM147.6 49.8h1.2v1.2h-1.2zM146.2 41.8h1.2v1.2h-1.2zM146.8 44.7h1.2v1.2h-1.2zM145.2 47.2h1.2v1.2h-1.2zM148.8 45.3h1.2v1.2h-1.2zM151.3 43.5h1.2v1.2h-1.2zM150.5 42.5h1.2v1.2h-1.2zM149.3 36.1h1.2v1.2h-1.2zM148.0 44.2h1.2v1.2h-1.2zM147.2 42.5h1.2v1.2h-1.2zM147.4 42.2h1.2v1.2h-1.2zM145.2 42.6h1.2v1.2h-1.2zM147.1 42.8h1.2v1.2h-1.2zM146.5 44.1h1.2v1.2h-1.2zM148.7 43.7h1.2v1.2h-1.2zM147.2 48.8h1.2v1.2h-1.2zM149.0 47.4h1.2v1.2h-1.2zM149.2 43.5h1.2v1.2h-1.2zM147.6 48.1h1.2v1.2h-1.2zM147.1 44.1h1.2v1.2h-1.2zM148.3 45.7h1.2v1.2h-1.2zM147.5 47.6h1.2v1.2h-1.2zM147.6 46.8h1.2v1.2h-1.2zM149.1 46.6h1.2v1.2h-1.2zM148.7 40.8h1.2v1.2h-1.2zM146.2 42.5h1.2v1.2h-1.2zM148.4 49.3h1.2v1.2h-1.2zM146.3 45.5h1.2v1.2h-1.2zM146.8 42.2h1.2v1.2h-1.2zM147.5 46.7h1.2v1.2h-1.2zM148.1 48.3h1.2v1.2h-1.2zM146.6 47.3h1.2v1.2h-1.2zM148.9 44.7h1.2v1.2h-1.2zM148.4 42.7h1.2v1.2h-1.2zM146.5 43.2h1.2v1.2h-1.2zM147.0 53.7h1.2v1.2h-1.2zM147.2 49.8h1.2v1.2h-1.2zM148.0 45.5h1.2v1.2h-1.2zM148.7 42.0h1.2v1.2h-1.2zM148.9 45.7h1.2v1.2h-1.2zM146.0 46.4h1.2v1.2h-1.2zM148.5 45.9h1.2v1.2h-1.2zM149.7 43.2h1.2v1.2h-1.2zM148.4 46.9h1.2v1.2h-1.2zM146.7 48.3h1.2v1.2h-1.2zM146.1 40.3h1.2v1.2h-1.2zM148.4 41.0h1.2v1.2h-1.2zM147.7 39.2h1.2v1.2h-1.2zM147.9 40.9h1.2v1.2h-1.2zM148.2 39.6h1.2v1.2h-1.2zM148.3 43.6h1.2v1.2h-1.2zM147.9 44.3h1.2v1.2h-1.2zM148.0 40.3h1.2v1.2h-1.2zM144.7 44.6h1.2v1.2h-1.2zM146.7 43.0h1.2v1.2h-1.2zM148.3 38.1h1.2v1.2h-1.2zM146.9 42.5h1.2v1.2h-1.2zM146.5 45.5h1.2v1.2h-1.2zM147.6 41.9h1.2v1.2h-1.2zM146.6 47.1h1.2v1.2h-1.2zM147.0 46.4h1.2v1.2h-1.2zM148.3 38.4h1.2v1.2h-1.2zM146.5 44.5h1.2v1.2h-1.2zM148.2 47.0h1.2v1.2h-1.2zM148.8 47.8h1.2v1.2h-1.2zM147.4 43.8h1.2v1.2h-1.2zM148.7 43.1h1.2v1.2h-1.2zM149.1 39.4h1.2v1.2h-1.2zM148.6 43.9h1.2v1.2h-1.2zM150.1 53.8h1.2v1.2h-1.2zM147.2 55.2h1.2v1.2h-1.2zM146.8 58.3h1.2v1.2h-1.2zM150.3 60.8h1.2v1.2h-1.2zM149.6 53.5h1.2v1.2h-1.2zM147.8 54.1h1.2v1.2h-1.2zM149.8 51.7h1.2v1.2h-1.2zM147.6 61.6h1.2v1.2h-1.2zM147.3 57.8h1.2v1.2h-1.2zM146.8 52.7h1.2v1.2h-1.2zM149.3 55.4h1.2v1.2h-1.2zM148.3 57.0h1.2v1.2h-1.2zM146.8 52.5h1.2v1.2h-1.2zM147.6 54.4h1.2v1.2h-1.2zM150.2 60.3h1.2v1.2h-1.2zM149.8 56.2h1.2v1.2h-1.2zM146.1 50.6h1.2v1.2h-1.2zM148.8 52.6h1.2v1.2h-1.2zM148.1 57.0h1.2v1.2h-1.2zM147.2 53.1h1.2v1.2h-1.2zM149.2 53.1h1.2v1.2h-1.2zM148.0 55.4h1.2v1.2h-1.2zM147.8 57.4h1.2v1.2h-1.2zM148.9 51.4h1.2v1.2h-1.2zM148.5 54.4h1.2v1.2h-1.2zM147.7 55.4h1.2v1.2h-1.2zM147.4 55.9h1.2v1.2h-1.2zM148.1 53.1h1.2v1.2h-1.2zM148.6 53.0h1.2v1.2h-1.2zM147.9 56.9h1.2v1.2h-1.2zM147.7 53.4h1.2v1.2h-1.2zM148.5 52.6h1.2v1.2h-1.2zM147.9 51.6h1.2v1.2h-1.2zM148.7 56.2h1.2v1.2h-1.2zM148.8 51.1h1.2v1.2h-1.2zM148.9 50.3h1.2v1.2h-1.2zM148.8 52.9h1.2v1.2h-1.2zM147.7 60.1h1.2v1.2h-1.2zM148.1 60.6h1.2v1.2h-1.2zM149.4 50.4h1.2v1.2h-1.2zM149.6 37.4h1.2v1.2h-1.2zM145.2 38.4h1.2v1.2h-1.2zM138.8 42.2h1.2v1.2h-1.2zM145.9 40.6h1.2v1.2h-1.2zM150.5 36.3h1.2v1.2h-1.2zM145.7 41.3h1.2v1.2h-1.2zM150.3 37.5h1.2v1.2h-1.2zM149.7 41.1h1.2v1.2h-1.2zM153.1 43.7h1.2v1.2h-1.2zM148.9 46.5h1.2v1.2h-1.2zM146.0 39.3h1.2v1.2h-1.2zM144.2 37.9h1.2v1.2h-1.2zM145.9 35.2h1.2v1.2h-1.2zM145.6 41.7h1.2v1.2h-1.2zM151.2 39.5h1.2v1.2h-1.2zM153.2 38.7h1.2v1.2h-1.2zM145.3 35.2h1.2v1.2h-1.2zM142.0 38.3h1.2v1.2h-1.2zM153.6 42.0h1.2v1.2h-1.2zM140.4 42.0h1.2v1.2h-1.2zM148.4 39.9h1.2v1.2h-1.2zM146.1 39.7h1.2v1.2h-1.2zM143.2 35.7h1.2v1.2h-1.2zM145.5 44.0h1.2v1.2h-1.2zM153.3 39.7h1.2v1.2h-1.2zM142.2 39.9h1.2v1.2h-1.2zM150.6 41.5h1.2v1.2h-1.2zM143.0 41.5h1.2v1.2h-1.2zM145.0 41.9h1.2v1.2h-1.2zM143.9 36.5h1.2v1.2h-1.2zM146.3 42.6h1.2v1.2h-1.2zM140.4 40.2h1.2v1.2h-1.2zM150.5 39.5h1.2v1.2h-1.2zM142.7 46.0h1.2v1.2h-1.2zM150.2 43.3h1.2v1.2h-1.2zM141.2 45.0h1.2v1.2h-1.2zM137.6 39.1h1.2v1.2h-1.2zM149.7 44.1h1.2v1.2h-1.2zM141.3 38.7h1.2v1.2h-1.2zM147.0 35.2h1.2v1.2h-1.2zM149.2 42.0h1.2v1.2h-1.2zM143.7 42.0h1.2v1.2h-1.2zM149.9 41.3h1.2v1.2h-1.2zM148.6 44.6h1.2v1.2h-1.2zM143.6 40.9h1.2v1.2h-1.2zM143.4 43.3h1.2v1.2h-1.2zM143.9 41.8h1.2v1.2h-1.2zM146.7 40.7h1.2v1.2h-1.2zM154.7 40.3h1.2v1.2h-1.2zM153.1 42.7h1.2v1.2h-1.2zM152.6 40.1h1.2v1.2h-1.2zM150.7 42.5h1.2v1.2h-1.2zM142.9 41.2h1.2v1.2h-1.2zM145.4 40.4h1.2v1.2h-1.2zM152.5 38.6h1.2v1.2h-1.2zM137.5 35.8h1.2v1.2h-1.2zM143.7 38.8h1.2v1.2h-1.2zM146.1 42.0h1.2v1.2h-1.2zM154.8 41.3h1.2v1.2h-1.2zM148.3 38.5h1.2v1.2h-1.2zM148.9 44.2h1.2v1.2h-1.2zM152.7 35.2h1.2v1.2h-1.2zM150.5 44.8h1.2v1.2h-1.2zM150.1 36.5h1.2v1.2h-1.2zM144.5 42.1h1.2v1.2h-1.2zM148.1 38.3h1.2v1.2h-1.2zM141.5 43.1h1.2v1.2h-1.2zM139.3 44.4h1.2v1.2h-1.2zM146.1 41.3h1.2v1.2h-1.2zM139.3 38.9h1.2v1.2h-1.2zM149.2 37.9h1.2v1.2h-1.2zM154.5 38.2h1.2v1.2h-1.2zM141.8 45.2h1.2v1.2h-1.2zM148.4 48.5h1.2v1.2h-1.2zM145.1 44.0h1.2v1.2h-1.2zM145.6 42.2h1.2v1.2h-1.2zM136.6 49.6h1.2v1.2h-1.2zM147.5 45.8h1.2v1.2h-1.2zM144.1 46.2h1.2v1.2h-1.2zM146.4 44.6h1.2v1.2h-1.2zM150.7 36.7h1.2v1.2h-1.2zM147.5 39.9h1.2v1.2h-1.2zM145.3 52.2h1.2v1.2h-1.2zM142.3 44.5h1.2v1.2h-1.2zM144.2 49.6h1.2v1.2h-1.2zM142.7 36.9h1.2v1.2h-1.2zM148.5 43.3h1.2v1.2h-1.2zM145.3 50.2h1.2v1.2h-1.2zM143.1 43.2h1.2v1.2h-1.2zM147.1 47.0h1.2v1.2h-1.2zM144.5 50.0h1.2v1.2h-1.2zM155.1 43.0h1.2v1.2h-1.2zM153.7 34.9h1.2v1.2h-1.2zM151.9 43.3h1.2v1.2h-1.2zM147.0 43.4h1.2v1.2h-1.2zM144.1 38.9h1.2v1.2h-1.2zM145.0 51.2h1.2v1.2h-1.2zM150.9 43.3h1.2v1.2h-1.2zM144.5 41.6h1.2v1.2h-1.2zM141.9 53.7h1.2v1.2h-1.2zM149.0 45.6h1.2v1.2h-1.2zM144.6 40.1h1.2v1.2h-1.2zM151.6 48.7h1.2v1.2h-1.2zM142.8 49.7h1.2v1.2h-1.2zM142.2 48.1h1.2v1.2h-1.2zM142.8 43.0h1.2v1.2h-1.2zM148.4 47.1h1.2v1.2h-1.2zM150.4 41.0h1.2v1.2h-1.2zM152.6 51.5h1.2v1.2h-1.2zM146.5 47.2h1.2v1.2h-1.2zM162.9 60.9h1.2v1.2h-1.2zM161.9 61.4h1.2v1.2h-1.2zM165.2 61.5h1.2v1.2h-1.2zM166.6 60.6h1.2v1.2h-1.2zM163.7 60.5h1.2v1.2h-1.2zM163.9 60.9h1.2v1.2h-1.2zM160.8 62.3h1.2v1.2h-1.2zM161.2 61.1h1.2v1.2h-1.2zM164.4 60.1h1.2v1.2h-1.2zM167.8 59.4h1.2v1.2h-1.2zM168.0 60.5h1.2v1.2h-1.2zM163.6 61.1h1.2v1.2h-1.2zM167.0 59.4h1.2v1.2h-1.2zM164.5 60.0h1.2v1.2h-1.2zM163.0 65.5h1.2v1.2h-1.2zM141.5 76.0h1.2v1.2h-1.2zM133.5 57.5h1.2v1.2h-1.2zM136.0 56.5h1.2v1.2h-1.2zM131.0 84.0h1.2v1.2h-1.2zM131.8 83.7h1.2v1.2h-1.2zM132.6 83.8h1.2v1.2h-1.2zM133.4 83.8h1.2v1.2h-1.2zM134.2 83.7h1.2v1.2h-1.2zM135.0 83.9h1.2v1.2h-1.2zM135.8 83.8h1.2v1.2h-1.2zM136.6 83.8h1.2v1.2h-1.2zM137.4 84.0h1.2v1.2h-1.2zM139.5 83.0h1.2v1.2h-1.2zM140.5 82.5h1.2v1.2h-1.2z" fill="#111"/>
<path d="M61.3 113.9h1.2v1.2h-1.2zM62.1 107.4h1.2v1.2h-1.2zM60.9 108.9h1.2v1.2h-1.2zM65.8 110.1h1.2v1.2h-1.2zM64.9 108.7h1.2v1.2h-1.2zM65.3 107.1h1.2v1.2h-1.2zM65.5 110.0h1.2v1.2h-1.2zM62.7 114.6h1.2v1.2h-1.2zM68.0 109.9h1.2v1.2h-1.2zM67.6 112.3h1.2v1.2h-1.2zM67.0 113.4h1.2v1.2h-1.2zM65.3 110.0h1.2v1.2h-1.2zM67.7 109.4h1.2v1.2h-1.2zM65.0 113.1h1.2v1.2h-1.2zM61.4 113.1h1.2v1.2h-1.2zM64.1 110.6h1.2v1.2h-1.2zM66.0 111.5h1.2v1.2h-1.2zM65.4 109.6h1.2v1.2h-1.2zM63.4 110.5h1.2v1.2h-1.2zM64.2 108.8h1.2v1.2h-1.2zM67.5 115.8h1.2v1.2h-1.2zM62.0 110.3h1.2v1.2h-1.2zM66.7 104.9h1.2v1.2h-1.2zM66.8 111.5h1.2v1.2h-1.2zM66.4 114.0h1.2v1.2h-1.2zM67.5 107.7h1.2v1.2h-1.2zM66.2 111.7h1.2v1.2h-1.2zM66.3 107.5h1.2v1.2h-1.2zM63.2 113.3h1.2v1.2h-1.2zM67.1 115.8h1.2v1.2h-1.2zM61.8 114.8h1.2v1.2h-1.2zM64.4 110.6h1.2v1.2h-1.2zM64.3 113.0h1.2v1.2h-1.2zM67.1 109.0h1.2v1.2h-1.2zM66.2 111.8h1.2v1.2h-1.2zM63.6 113.7h1.2v1.2h-1.2zM63.2 110.0h1.2v1.2h-1.2zM64.9 111.5h1.2v1.2h-1.2zM63.4 110.1h1.2v1.2h-1.2zM67.2 111.7h1.2v1.2h-1.2zM65.6 111.2h1.2v1.2h-1.2zM66.8 114.6h1.2v1.2h-1.2zM64.8 113.5h1.2v1.2h-1.2zM63.4 111.3h1.2v1.2h-1.2zM62.8 109.9h1.2v1.2h-1.2zM71.0 109.0h1.2v1.2h-1.2zM67.5 112.1h1.2v1.2h-1.2zM65.5 105.7h1.2v1.2h-1.2zM65.4 107.4h1.2v1.2h-1.2zM63.7 109.3h1.2v1.2h-1.2zM64.3 116.2h1.2v1.2h-1.2zM68.3 106.6h1.2v1.2h-1.2zM64.3 109.1h1.2v1.2h-1.2zM65.3 106.7h1.2v1.2h-1.2zM62.2 111.1h1.2v1.2h-1.2zM63.5 114.2h1.2v1.2h-1.2zM64.4 111.9h1.2v1.2h-1.2zM64.1 113.4h1.2v1.2h-1.2zM67.3 111.1h1.2v1.2h-1.2zM64.0 112.8h1.2v1.2h-1.2zM65.2 113.9h1.2v1.2h-1.2zM65.2 111.6h1.2v1.2h-1.2zM66.5 109.1h1.2v1.2h-1.2zM62.6 112.5h1.2v1.2h-1.2zM64.6 112.9h1.2v1.2h-1.2zM66.5 112.3h1.2v1.2h-1.2zM63.8 115.5h1.2v1.2h-1.2zM60.5 109.2h1.2v1.2h-1.2zM62.6 116.6h1.2v1.2h-1.2zM64.3 110.7h1.2v1.2h-1.2zM66.1 114.6h1.2v1.2h-1.2zM66.9 111.1h1.2v1.2h-1.2zM65.3 108.4h1.2v1.2h-1.2zM65.5 110.5h1.2v1.2h-1.2zM60.7 111.9h1.2v1.2h-1.2zM64.8 113.4h1.2v1.2h-1.2zM66.2 111.5h1.2v1.2h-1.2zM64.6 115.6h1.2v1.2h-1.2zM65.4 114.1h1.2v1.2h-1.2zM65.8 114.9h1.2v1.2h-1.2zM66.9 108.2h1.2v1.2h-1.2zM66.1 115.6h1.2v1.2h-1.2zM67.6 110.4h1.2v1.2h-1.2zM68.2 113.7h1.2v1.2h-1.2zM66.3 109.5h1.2v1.2h-1.2zM65.8 112.7h1.2v1.2h-1.2zM61.0 110.0h1.2v1.2h-1.2zM62.1 106.4h1.2v1.2h-1.2zM65.4 113.7h1.2v1.2h-1.2zM65.0 107.2h1.2v1.2h-1.2zM62.5 113.7h1.2v1.2h-1.2zM64.6 112.1h1.2v1.2h-1.2zM64.5 111.7h1.2v1.2h-1.2zM63.7 109.5h1.2v1.2h-1.2zM62.3 111.4h1.2v1.2h-1.2zM64.9 114.4h1.2v1.2h-1.2zM69.5 111.8h1.2v1.2h-1.2zM59.6 108.0h1.2v1.2h-1.2zM67.6 112.6h1.2v1.2h-1.2zM64.7 108.8h1.2v1.2h-1.2zM66.0 112.2h1.2v1.2h-1.2zM67.1 115.0h1.2v1.2h-1.2zM68.1 114.0h1.2v1.2h-1.2zM62.8 112.9h1.2v1.2h-1.2zM62.8 109.4h1.2v1.2h-1.2zM63.5 108.1h1.2v1.2h-1.2zM63.4 115.3h1.2v1.2h-1.2zM64.8 115.7h1.2v1.2h-1.2zM65.3 106.5h1.2v1.2h-1.2zM63.7 115.8h1.2v1.2h-1.2zM67.2 110.9h1.2v1.2h-1.2zM64.6 114.7h1.2v1.2h-1.2zM66.0 110.8h1.2v1.2h-1.2zM67.3 111.5h1.2v1.2h-1.2zM63.1 107.3h1.2v1.2h-1.2zM61.1 117.7h1.2v1.2h-1.2zM65.5 116.0h1.2v1.2h-1.2zM65.4 111.7h1.2v1.2h-1.2zM65.5 112.0h1.2v1.2h-1.2zM62.5 111.3h1.2v1.2h-1.2zM67.0 117.3h1.2v1.2h-1.2zM64.2 112.5h1.2v1.2h-1.2zM66.4 115.4h1.2v1.2h-1.2zM66.0 110.5h1.2v1.2h-1.2zM68.4 112.2h1.2v1.2h-1.2zM65.3 119.2h1.2v1.2h-1.2zM62.2 111.3h1.2v1.2h-1.2zM63.0 115.5h1.2v1.2h-1.2zM63.3 111.9h1.2v1.2h-1.2zM65.8 110.5h1.2v1.2h-1.2zM64.9 110.3h1.2v1.2h-1.2zM63.8 109.1h1.2v1.2h-1.2zM65.5 110.6h1.2v1.2h-1.2zM63.1 110.2h1.2v1.2h-1.2zM69.2 108.0h1.2v1.2h-1.2zM64.0 109.9h1.2v1.2h-1.2zM65.0 113.5h1.2v1.2h-1.2zM63.7 112.1h1.2v1.2h-1.2zM66.0 115.8h1.2v1.2h-1.2zM63.9 109.5h1.2v1.2h-1.2zM66.4 111.2h1.2v1.2h-1.2zM63.9 110.6h1.2v1.2h-1.2zM67.6 107.0h1.2v1.2h-1.2zM64.6 115.9h1.2v1.2h-1.2zM65.7 109.3h1.2v1.2h-1.2zM63.9 114.1h1.2v1.2h-1.2zM65.9 110.2h1.2v1.2h-1.2zM63.9 107.9h1.2v1.2h-1.2zM62.5 112.4h1.2v1.2h-1.2zM66.0 110.0h1.2v1.2h-1.2zM66.4 109.5h1.2v1.2h-1.2zM65.7 105.8h1.2v1.2h-1.2zM66.6 116.4h1.2v1.2h-1.2zM66.7 111.2h1.2v1.2h-1.2zM66.0 111.5h1.2v1.2h-1.2zM65.3 111.2h1.2v1.2h-1.2zM66.0 110.5h1.2v1.2h-1.2zM64.9 110.0h1.2v1.2h-1.2zM66.5 115.0h1.2v1.2h-1.2zM66.5 112.7h1.2v1.2h-1.2zM67.8 109.1h1.2v1.2h-1.2zM69.1 106.0h1.2v1.2h-1.2zM66.4 111.7h1.2v1.2h-1.2zM65.8 107.2h1.2v1.2h-1.2zM67.3 112.1h1.2v1.2h-1.2zM65.2 114.3h1.2v1.2h-1.2zM65.3 111.6h1.2v1.2h-1.2zM66.7 111.2h1.2v1.2h-1.2zM65.7 110.3h1.2v1.2h-1.2zM63.9 111.4h1.2v1.2h-1.2zM63.9 112.1h1.2v1.2h-1.2zM64.6 109.8h1.2v1.2h-1.2zM64.8 108.0h1.2v1.2h-1.2zM66.4 113.0h1.2v1.2h-1.2zM60.5 111.4h1.2v1.2h-1.2zM64.2 112.9h1.2v1.2h-1.2zM69.1 110.1h1.2v1.2h-1.2zM64.8 109.1h1.2v1.2h-1.2zM65.7 113.3h1.2v1.2h-1.2zM65.5 111.6h1.2v1.2h-1.2zM63.0 111.1h1.2v1.2h-1.2zM63.2 110.4h1.2v1.2h-1.2zM68.0 111.6h1.2v1.2h-1.2zM63.6 108.4h1.2v1.2h-1.2zM62.1 110.0h1.2v1.2h-1.2zM69.0 110.7h1.2v1.2h-1.2zM64.6 108.5h1.2v1.2h-1.2zM64.1 114.0h1.2v1.2h-1.2zM67.0 110.8h1.2v1.2h-1.2zM63.5 113.2h1.2v1.2h-1.2zM69.5 119.1h1.2v1.2h-1.2zM67.7 111.4h1.2v1.2h-1.2zM66.4 110.3h1.2v1.2h-1.2zM63.5 109.6h1.2v1.2h-1.2zM65.1 113.2h1.2v1.2h-1.2zM67.9 114.9h1.2v1.2h-1.2zM65.9 105.3h1.2v1.2h-1.2zM67.9 112.6h1.2v1.2h-1.2zM63.7 114.9h1.2v1.2h-1.2zM63.3 110.6h1.2v1.2h-1.2zM65.1 111.3h1.2v1.2h-1.2zM64.9 105.8h1.2v1.2h-1.2zM62.3 111.1h1.2v1.2h-1.2zM66.5 111.2h1.2v1.2h-1.2zM62.7 107.9h1.2v1.2h-1.2zM62.7 114.3h1.2v1.2h-1.2zM63.1 113.4h1.2v1.2h-1.2zM62.7 108.6h1.2v1.2h-1.2zM63.8 114.8h1.2v1.2h-1.2zM63.6 110.8h1.2v1.2h-1.2zM63.8 109.9h1.2v1.2h-1.2zM66.9 109.6h1.2v1.2h-1.2zM64.6 108.0h1.2v1.2h-1.2zM63.6 111.6h1.2v1.2h-1.2zM67.9 116.3h1.2v1.2h-1.2zM62.6 110.7h1.2v1.2h-1.2zM61.4 110.4h1.2v1.2h-1.2zM65.1 113.0h1.2v1.2h-1.2zM66.0 108.5h1.2v1.2h-1.2zM62.6 107.2h1.2v1.2h-1.2zM68.2 107.8h1.2v1.2h-1.2zM66.9 112.0h1.2v1.2h-1.2zM66.8 106.8h1.2v1.2h-1.2zM65.8 112.4h1.2v1.2h-1.2zM65.0 112.6h1.2v1.2h-1.2zM62.8 115.3h1.2v1.2h-1.2zM62.8 110.9h1.2v1.2h-1.2zM66.7 112.8h1.2v1.2h-1.2zM68.1 111.2h1.2v1.2h-1.2zM62.8 112.3h1.2v1.2h-1.2zM66.0 106.8h1.2v1.2h-1.2zM66.8 114.7h1.2v1.2h-1.2zM63.4 113.8h1.2v1.2h-1.2zM65.1 114.0h1.2v1.2h-1.2zM63.9 113.6h1.2v1.2h-1.2zM66.3 111.5h1.2v1.2h-1.2zM64.4 110.9h1.2v1.2h-1.2zM66.4 115.3h1.2v1.2h-1.2zM64.7 113.7h1.2v1.2h-1.2zM65.2 116.6h1.2v1.2h-1.2zM67.4 113.5h1.2v1.2h-1.2zM65.8 109.8h1.2v1.2h-1.2zM61.9 113.6h1.2v1.2h-1.2zM63.6 109.5h1.2v1.2h-1.2zM67.1 112.1h1.2v1.2h-1.2zM62.9 114.6h1.2v1.2h-1.2zM64.4 114.1h1.2v1.2h-1.2zM62.8 107.2h1.2v1.2h-1.2zM63.8 113.5h1.2v1.2h-1.2zM61.0 108.3h1.2v1.2h-1.2zM66.9 118.3h1.2v1.2h-1.2zM64.5 108.7h1.2v1.2h-1.2zM64.1 109.1h1.2v1.2h-1.2zM68.0 113.3h1.2v1.2h-1.2zM63.2 113.7h1.2v1.2h-1.2zM60.7 111.4h1.2v1.2h-1.2zM65.0 110.7h1.2v1.2h-1.2zM63.1 109.6h1.2v1.2h-1.2zM61.3 112.6h1.2v1.2h-1.2zM63.1 112.9h1.2v1.2h-1.2zM66.7 109.4h1.2v1.2h-1.2zM62.6 111.5h1.2v1.2h-1.2zM66.3 107.6h1.2v1.2h-1.2zM64.9 108.5h1.2v1.2h-1.2zM67.9 112.4h1.2v1.2h-1.2zM61.8 109.7h1.2v1.2h-1.2zM65.1 109.9h1.2v1.2h-1.2zM65.1 112.4h1.2v1.2h-1.2zM65.4 110.1h1.2v1.2h-1.2zM67.8 113.8h1.2v1.2h-1.2zM64.4 110.9h1.2v1.2h-1.2zM63.7 107.3h1.2v1.2h-1.2zM64.3 111.4h1.2v1.2h-1.2zM64.2 108.6h1.2v1.2h-1.2zM58.9 106.3h1.2v1.2h-1.2zM66.7 106.1h1.2v1.2h-1.2zM66.1 113.3h1.2v1.2h-1.2zM64.8 111.3h1.2v1.2h-1.2zM66.6 111.1h1.2v1.2h-1.2zM64.9 113.7h1.2v1.2h-1.2zM64.9 116.8h1.2v1.2h-1.2zM62.8 110.2h1.2v1.2h-1.2zM64.4 111.7h1.2v1.2h-1.2zM63.7 116.6h1.2v1.2h-1.2zM66.3 106.1h1.2v1.2h-1.2zM64.9 113.2h1.2v1.2h-1.2zM67.3 112.4h1.2v1.2h-1.2zM63.4 113.5h1.2v1.2h-1.2zM62.4 111.6h1.2v1.2h-1.2zM62.6 115.1h1.2v1.2h-1.2zM66.4 117.3h1.2v1.2h-1.2zM64.4 111.0h1.2v1.2h-1.2zM64.0 114.5h1.2v1.2h-1.2zM62.8 113.3h1.2v1.2h-1.2zM64.3 113.3h1.2v1.2h-1.2zM65.5 109.1h1.2v1.2h-1.2zM64.1 106.4h1.2v1.2h-1.2zM63.2 109.6h1.2v1.2h-1.2zM67.0 110.1h1.2v1.2h-1.2zM65.5 110.6h1.2v1.2h-1.2zM63.6 112.3h1.2v1.2h-1.2zM67.5 112.3h1.2v1.2h-1.2zM66.7 112.3h1.2v1.2h-1.2zM66.4 115.5h1.2v1.2h-1.2zM63.2 109.5h1.2v1.2h-1.2zM63.4 111.0h1.2v1.2h-1.2zM64.7 109.4h1.2v1.2h-1.2zM65.8 115.1h1.2v1.2h-1.2zM66.8 114.9h1.2v1.2h-1.2zM65.3 112.0h1.2v1.2h-1.2zM66.9 113.2h1.2v1.2h-1.2zM66.4 110.3h1.2v1.2h-1.2zM64.7 109.6h1.2v1.2h-1.2zM66.7 109.1h1.2v1.2h-1.2zM65.4 111.6h1.2v1.2h-1.2zM65.1 110.4h1.2v1.2h-1.2zM65.7 109.4h1.2v1.2h-1.2zM65.4 113.9h1.2v1.2h-1.2zM64.6 113.6h1.2v1.2h-1.2zM66.7 115.0h1.2v1.2h-1.2zM64.2 114.8h1.2v1.2h-1.2zM66.4 114.2h1.2v1.2h-1.2zM66.4 110.7h1.2v1.2h-1.2zM66.3 111.4h1.2v1.2h-1.2zM64.7 109.8h1.2v1.2h-1.2zM64.7 110.7h1.2v1.2h-1.2zM63.3 111.8h1.2v1.2h-1.2zM63.6 112.4h1.2v1.2h-1.2zM66.9 113.7h1.2v1.2h-1.2zM67.2 114.5h1.2v1.2h-1.2zM68.0 110.9h1.2v1.2h-1.2zM64.2 110.7h1.2v1.2h-1.2zM64.0 114.0h1.2v1.2h-1.2zM62.4 111.1h1.2v1.2h-1.2zM66.4 112.4h1.2v1.2h-1.2zM66.3 108.8h1.2v1.2h-1.2zM64.7 110.8h1.2v1.2h-1.2zM65.8 112.3h1.2v1.2h-1.2zM67.0 108.4h1.2v1.2h-1.2zM65.6 116.0h1.2v1.2h-1.2zM66.8 111.6h1.2v1.2h-1.2zM66.3 110.6h1.2v1.2h-1.2zM66.8 109.9h1.2v1.2h-1.2zM66.2 111.6h1.2v1.2h-1.2zM64.3 111.5h1.2v1.2h-1.2zM65.2 109.6h1.2v1.2h-1.2zM65.4 109.2h1.2v1.2h-1.2zM66.6 112.2h1.2v1.2h-1.2zM66.5 112.6h1.2v1.2h-1.2zM65.6 108.1h1.2v1.2h-1.2zM64.9 111.1h1.2v1.2h-1.2zM64.7 110.9h1.2v1.2h-1.2zM64.8 110.1h1.2v1.2h-1.2zM64.2 110.0h1.2v1.2h-1.2zM64.0 113.3h1.2v1.2h-1.2zM65.6 112.2h1.2v1.2h-1.2zM66.2 110.3h1.2v1.2h-1.2zM66.5 107.3h1.2v1.2h-1.2zM64.5 111.2h1.2v1.2h-1.2zM67.2 113.5h1.2v1.2h-1.2zM66.2 112.7h1.2v1.2h-1.2zM64.6 110.8h1.2v1.2h-1.2zM64.5 111.3h1.2v1.2h-1.2zM63.8 110.4h1.2v1.2h-1.2zM64.7 112.1h1.2v1.2h-1.2zM64.5 111.8h1.2v1.2h-1.2zM65.8 112.2h1.2v1.2h-1.2zM66.2 109.1h1.2v1.2h-1.2zM65.4 110.8h1.2v1.2h-1.2zM66.5 110.1h1.2v1.2h-1.2zM65.6 108.2h1.2v1.2h-1.2zM64.9 109.5h1.2v1.2h-1.2zM65.2 109.7h1.2v1.2h-1.2zM65.2 111.5h1.2v1.2h-1.2zM64.1 112.7h1.2v1.2h-1.2zM64.5 115.5h1.2v1.2h-1.2zM66.6 112.5h1.2v1.2h-1.2zM65.4 113.9h1.2v1.2h-1.2zM65.6 107.6h1.2v1.2h-1.2zM66.0 111.6h1.2v1.2h-1.2zM62.4 107.3h1.2v1.2h-1.2zM66.8 111.8h1.2v1.2h-1.2zM64.4 107.2h1.2v1.2h-1.2zM64.0 114.4h1.2v1.2h-1.2zM62.6 112.2h1.2v1.2h-1.2zM68.0 111.4h1.2v1.2h-1.2zM64.2 112.2h1.2v1.2h-1.2zM66.0 111.9h1.2v1.2h-1.2zM65.0 107.7h1.2v1.2h-1.2zM65.8 112.6h1.2v1.2h-1.2zM67.0 115.1h1.2v1.2h-1.2zM65.8 116.9h1.2v1.2h-1.2zM81.3 109.9h1.2v1.2h-1.2zM66.4 107.0h1.2v1.2h-1.2zM56.7 112.6h1.2v1.2h-1.2zM71.7 107.9h1.2v1.2h-1.2zM62.9 110.0h1.2v1.2h-1.2zM58.4 105.7h1.2v1.2h-1.2zM65.5 110.4h1.2v1.2h-1.2zM64.1 108.0h1.2v1.2h-1.2zM71.5 123.6h1.2v1.2h-1.2zM61.3 105.2h1.2v1.2h-1.2zM71.0 119.5h1.2v1.2h-1.2zM74.6 108.3h1.2v1.2h-1.2zM64.7 103.1h1.2v1.2h-1.2zM67.1 106.2h1.2v1.2h-1.2zM56.8 116.2h1.2v1.2h-1.2zM67.1 102.6h1.2v1.2h-1.2zM61.3 124.6h1.2v1.2h-1.2zM53.6 110.1h1.2v1.2h-1.2zM74.4 121.2h1.2v1.2h-1.2zM65.9 108.8h1.2v1.2h-1.2zM66.8 109.4h1.2v1.2h-1.2zM66.7 117.7h1.2v1.2h-1.2zM65.5 118.3h1.2v1.2h-1.2zM71.1 108.4h1.2v1.2h-1.2zM63.8 107.7h1.2v1.2h-1.2zM66.8 103.8h1.2v1.2h-1.2zM60.3 101.6h1.2v1.2h-1.2zM67.2 108.0h1.2v1.2h-1.2zM71.0 116.3h1.2v1.2h-1.2zM67.3 108.6h1.2v1.2h-1.2zM57.4 107.2h1.2v1.2h-1.2zM65.1 112.0h1.2v1.2h-1.2zM64.1 112.6h1.2v1.2h-1.2zM71.7 118.4h1.2v1.2h-1.2zM59.3 115.8h1.2v1.2h-1.2zM60.8 113.7h1.2v1.2h-1.2zM66.0 117.1h1.2v1.2h-1.2zM68.7 106.7h1.2v1.2h-1.2zM64.5 114.6h1.2v1.2h-1.2zM64.0 120.2h1.2v1.2h-1.2zM58.4 115.1h1.2v1.2h-1.2zM65.9 110.1h1.2v1.2h-1.2zM64.4 111.2h1.2v1.2h-1.2zM66.4 109.6h1.2v1.2h-1.2zM63.4 125.0h1.2v1.2h-1.2zM62.8 115.2h1.2v1.2h-1.2zM70.1 108.1h1.2v1.2h-1.2zM68.8 109.4h1.2v1.2h-1.2zM53.0 112.5h1.2v1.2h-1.2zM50.7 111.9h1.2v1.2h-1.2zM68.4 121.2h1.2v1.2h-1.2zM68.1 117.7h1.2v1.2h-1.2zM68.0 112.5h1.2v1.2h-1.2zM70.0 110.6h1.2v1.2h-1.2zM66.3 109.0h1.2v1.2h-1.2zM63.7 114.3h1.2v1.2h-1.2zM56.0 109.3h1.2v1.2h-1.2zM60.4 112.1h1.2v1.2h-1.2zM74.2 107.9h1.2v1.2h-1.2zM64.0 110.8h1.2v1.2h-1.2zM61.3 108.7h1.2v1.2h-1.2zM69.4 111.3h1.2v1.2h-1.2zM61.4 106.5h1.2v1.2h-1.2zM60.9 116.8h1.2v1.2h-1.2zM60.3 102.7h1.2v1.2h-1.2zM60.4 112.6h1.2v1.2h-1.2zM66.6 112.2h1.2v1.2h-1.2zM68.7 106.0h1.2v1.2h-1.2zM60.1 110.6h1.2v1.2h-1.2zM65.1 102.0h1.2v1.2h-1.2zM63.9 104.2h1.2v1.2h-1.2zM69.2 113.5h1.2v1.2h-1.2zM72.7 121.9h1.2v1.2h-1.2zM67.1 110.7h1.2v1.2h-1.2zM59.6 109.1h1.2v1.2h-1.2zM69.6 113.9h1.2v1.2h-1.2zM64.9 105.3h1.2v1.2h-1.2zM63.4 120.8h1.2v1.2h-1.2zM63.5 118.6h1.2v1.2h-1.2zM53.3 119.1h1.2v1.2h-1.2zM59.8 105.2h1.2v1.2h-1.2zM62.9 108.1h1.2v1.2h-1.2zM72.3 110.7h1.2v1.2h-1.2zM63.6 108.7h1.2v1.2h-1.2zM68.3 118.1h1.2v1.2h-1.2zM68.9 104.6h1.2v1.2h-1.2zM63.5 114.7h1.2v1.2h-1.2zM55.2 111.5h1.2v1.2h-1.2zM69.1 119.5h1.2v1.2h-1.2zM67.0 116.3h1.2v1.2h-1.2zM68.8 113.9h1.2v1.2h-1.2zM55.7 121.3h1.2v1.2h-1.2zM68.0 111.7h1.2v1.2h-1.2zM62.3 129.7h1.2v1.2h-1.2zM65.2 125.5h1.2v1.2h-1.2zM63.4 123.5h1.2v1.2h-1.2zM64.3 126.0h1.2v1.2h-1.2zM59.7 128.1h1.2v1.2h-1.2zM64.3 125.0h1.2v1.2h-1.2zM66.8 121.2h1.2v1.2h-1.2zM66.4 119.4h1.2v1.2h-1.2zM64.9 120.4h1.2v1.2h-1.2zM66.9 127.1h1.2v1.2h-1.2zM61.4 123.7h1.2v1.2h-1.2zM62.5 118.6h1.2v1.2h-1.2zM64.1 125.8h1.2v1.2h-1.2zM67.2 121.2h1.2v1.2h-1.2zM63.7 127.1h1.2v1.2h-1.2zM64.2 128.1h1.2v1.2h-1.2zM69.0 124.4h1.2v1.2h-1.2zM62.4 121.9h1.2v1.2h-1.2zM66.3 122.1h1.2v1.2h-1.2zM64.5 124.1h1.2v1.2h-1.2zM60.5 121.5h1.2v1.2h-1.2zM63.4 120.2h1.2v1.2h-1.2zM80.0 134.2h1.2v1.2h-1.2zM67.1 145.0h1.2v1.2h-1.2zM88.5 123.2h1.2v1.2h-1.2zM86.6 126.6h1.2v1.2h-1.2zM46.0 156.0h1.2v1.2h-1.2zM50.7 153.7h1.2v1.2h-1.2zM53.5 155.8h1.2v1.2h-1.2zM54.4 155.0h1.2v1.2h-1.2zM77.5 101.5h1.2v1.2h-1.2z" fill="#111"/>
<path d="M153.7 116.4h1.2v1.2h-1.2zM150.2 124.8h1.2v1.2h-1.2zM156.2 117.8h1.2v1.2h-1.2zM153.2 110.3h1.2v1.2h-1.2zM147.0 124.7h1.2v1.2h-1.2zM153.7 114.0h1.2v1.2h-1.2zM148.4 123.3h1.2v1.2h-1.2zM151.4 120.8h1.2v1.2h-1.2zM155.7 114.6h1.2v1.2h-1.2zM149.7 116.8h1.2v1.2h-1.2zM154.1 117.2h1.2v1.2h-1.2zM152.0 119.9h1.2v1.2h-1.2zM149.9 121.0h1.2v1.2h-1.2zM156.1 113.1h1.2v1.2h-1.2zM151.3 115.7h1.2v1.2h-1.2zM151.6 116.4h1.2v1.2h-1.2zM156.6 111.9h1.2v1.2h-1.2zM154.0 116.3h1.2v1.2h-1.2zM152.6 110.9h1.2v1.2h-1.2zM148.0 117.4h1.2v1.2h-1.2zM156.8 114.4h1.2v1.2h-1.2zM155.6 112.4h1.2v1.2h-1.2zM154.1 116.9h1.2v1.2h-1.2zM153.4 111.0h1.2v1.2h-1.2zM152.0 115.7h1.2v1.2h-1.2zM155.0 121.8h1.2v1.2h-1.2zM154.4 115.2h1.2v1.2h-1.2zM152.4 122.0h1.2v1.2h-1.2zM154.7 123.2h1.2v1.2h-1.2zM157.1 118.0h1.2v1.2h-1.2zM149.3 123.8h1.2v1.2h-1.2zM155.7 123.4h1.2v1.2h-1.2zM152.6 118.8h1.2v1.2h-1.2zM152.4 116.4h1.2v1.2h-1.2zM152.3 120.2h1.2v1.2h-1.2zM149.6 120.0h1.2v1.2h-1.2zM153.3 117.3h1.2v1.2h-1.2zM153.8 116.5h1.2v1.2h-1.2zM151.8 125.4h1.2v1.2h-1.2zM150.9 122.0h1.2v1.2h-1.2zM151.7 116.8h1.2v1.2h-1.2zM153.9 115.4h1.2v1.2h-1.2zM156.7 111.5h1.2v1.2h-1.2zM152.3 118.1h1.2v1.2h-1.2zM153.2 117.4h1.2v1.2h-1.2zM150.5 117.8h1.2v1.2h-1.2zM155.1 121.8h1.2v1.2h-1.2zM153.8 112.0h1.2v1.2h-1.2zM149.9 121.4h1.2v1.2h-1.2zM151.8 116.3h1.2v1.2h-1.2zM160.5 107.7h1.2v1.2h-1.2zM157.3 107.2h1.2v1.2h-1.2zM146.8 130.3h1.2v1.2h-1.2zM154.6 121.4h1.2v1.2h-1.2zM153.6 122.9h1.2v1.2h-1.2zM152.9 111.2h1.2v1.2h-1.2zM150.5 119.3h1.2v1.2h-1.2zM152.6 123.3h1.2v1.2h-1.2zM151.8 121.6h1.2v1.2h-1.2zM153.9 112.6h1.2v1.2h-1.2zM151.1 119.4h1.2v1.2h-1.2zM153.1 115.3h1.2v1.2h-1.2zM151.1 124.7h1.2v1.2h-1.2zM153.8 105.6h1.2v1.2h-1.2zM155.4 106.6h1.2v1.2h-1.2zM156.8 115.4h1.2v1.2h-1.2zM153.0 116.7h1.2v1.2h-1.2zM152.7 119.3h1.2v1.2h-1.2zM156.5 113.1h1.2v1.2h-1.2zM152.2 115.4h1.2v1.2h-1.2zM151.5 120.6h1.2v1.2h-1.2zM150.6 106.3h1.2v1.2h-1.2zM152.3 119.8h1.2v1.2h-1.2zM152.8 122.8h1.2v1.2h-1.2zM157.2 114.0h1.2v1.2h-1.2zM151.7 118.9h1.2v1.2h-1.2zM153.4 120.5h1.2v1.2h-1.2zM154.4 113.2h1.2v1.2h-1.2zM157.9 119.0h1.2v1.2h-1.2zM154.7 113.3h1.2v1.2h-1.2zM153.8 116.3h1.2v1.2h-1.2zM154.2 123.0h1.2v1.2h-1.2zM151.3 118.0h1.2v1.2h-1.2zM152.6 119.5h1.2v1.2h-1.2zM156.7 115.0h1.2v1.2h-1.2zM159.8 115.2h1.2v1.2h-1.2zM148.8 120.8h1.2v1.2h-1.2zM148.4 123.7h1.2v1.2h-1.2zM153.9 116.4h1.2v1.2h-1.2zM154.3 119.1h1.2v1.2h-1.2zM151.5 115.6h1.2v1.2h-1.2zM156.9 120.0h1.2v1.2h-1.2zM154.5 113.3h1.2v1.2h-1.2zM156.7 122.3h1.2v1.2h-1.2zM152.0 117.9h1.2v1.2h-1.2zM150.0 124.3h1.2v1.2h-1.2zM155.6 115.2h1.2v1.2h-1.2zM152.4 115.7h1.2v1.2h-1.2zM150.6 129.1h1.2v1.2h-1.2zM151.7 119.9h1.2v1.2h-1.2zM152.1 116.9h1.2v1.2h-1.2zM152.4 123.8h1.2v1.2h-1.2zM150.9 114.3h1.2v1.2h-1.2zM153.3 113.3h1.2v1.2h-1.2zM155.4 122.5h1.2v1.2h-1.2zM154.8 120.9h1.2v1.2h-1.2zM149.1 122.2h1.2v1.2h-1.2zM153.2 114.9h1.2v1.2h-1.2zM152.1 112.0h1.2v1.2h-1.2zM151.5 118.7h1.2v1.2h-1.2zM156.2 115.5h1.2v1.2h-1.2zM154.0 120.2h1.2v1.2h-1.2zM154.5 118.6h1.2v1.2h-1.2zM148.5 123.2h1.2v1.2h-1.2zM155.6 112.6h1.2v1.2h-1.2zM153.1 117.1h1.2v1.2h-1.2zM156.2 127.1h1.2v1.2h-1.2zM153.3 117.3h1.2v1.2h-1.2zM154.1 119.9h1.2v1.2h-1.2zM154.6 117.4h1.2v1.2h-1.2zM152.6 108.0h1.2v1.2h-1.2zM151.4 109.4h1.2v1.2h-1.2zM152.1 121.3h1.2v1.2h-1.2zM156.3 120.3h1.2v1.2h-1.2zM155.8 127.5h1.2v1.2h-1.2zM153.1 115.4h1.2v1.2h-1.2zM153.9 115.9h1.2v1.2h-1.2zM151.8 118.1h1.2v1.2h-1.2zM156.1 108.8h1.2v1.2h-1.2zM153.0 118.4h1.2v1.2h-1.2zM155.6 113.9h1.2v1.2h-1.2zM155.1 113.6h1.2v1.2h-1.2zM151.6 113.5h1.2v1.2h-1.2zM153.5 116.7h1.2v1.2h-1.2zM155.0 121.1h1.2v1.2h-1.2zM151.2 123.1h1.2v1.2h-1.2zM156.4 119.7h1.2v1.2h-1.2zM156.7 120.8h1.2v1.2h-1.2zM154.9 113.7h1.2v1.2h-1.2zM154.0 123.9h1.2v1.2h-1.2zM152.3 123.6h1.2v1.2h-1.2zM155.6 128.1h1.2v1.2h-1.2zM151.1 116.8h1.2v1.2h-1.2zM154.8 123.6h1.2v1.2h-1.2zM157.1 111.4h1.2v1.2h-1.2zM153.9 121.7h1.2v1.2h-1.2zM149.8 126.0h1.2v1.2h-1.2zM153.4 124.2h1.2v1.2h-1.2zM156.9 118.2h1.2v1.2h-1.2zM153.7 118.8h1.2v1.2h-1.2zM154.3 124.0h1.2v1.2h-1.2zM151.4 114.6h1.2v1.2h-1.2zM150.3 119.4h1.2v1.2h-1.2zM151.3 113.4h1.2v1.2h-1.2zM156.8 115.2h1.2v1.2h-1.2zM156.5 108.5h1.2v1.2h-1.2zM156.1 112.3h1.2v1.2h-1.2zM155.8 120.7h1.2v1.2h-1.2zM155.1 114.6h1.2v1.2h-1.2zM154.3 116.6h1.2v1.2h-1.2zM155.5 117.2h1.2v1.2h-1.2zM153.1 114.8h1.2v1.2h-1.2zM151.2 122.6h1.2v1.2h-1.2zM151.9 120.3h1.2v1.2h-1.2zM145.8 122.0h1.2v1.2h-1.2zM151.9 108.5h1.2v1.2h-1.2zM155.2 109.3h1.2v1.2h-1.2zM156.6 119.0h1.2v1.2h-1.2zM151.7 122.1h1.2v1.2h-1.2zM152.3 118.9h1.2v1.2h-1.2zM151.1 128.7h1.2v1.2h-1.2zM155.0 116.8h1.2v1.2h-1.2zM155.2 110.3h1.2v1.2h-1.2zM157.1 113.6h1.2v1.2h-1.2zM151.9 117.8h1.2v1.2h-1.2zM154.5 114.9h1.2v1.2h-1.2zM152.0 114.8h1.2v1.2h-1.2zM147.8 114.3h1.2v1.2h-1.2zM153.1 123.9h1.2v1.2h-1.2zM152.3 113.2h1.2v1.2h-1.2zM155.3 117.1h1.2v1.2h-1.2zM156.6 115.3h1.2v1.2h-1.2zM153.8 118.3h1.2v1.2h-1.2zM152.4 122.5h1.2v1.2h-1.2zM153.2 118.1h1.2v1.2h-1.2zM150.8 126.2h1.2v1.2h-1.2zM154.2 118.6h1.2v1.2h-1.2zM149.0 120.6h1.2v1.2h-1.2zM153.1 110.7h1.2v1.2h-1.2zM153.7 114.8h1.2v1.2h-1.2zM152.5 119.6h1.2v1.2h-1.2zM152.9 115.3h1.2v1.2h-1.2zM149.6 131.0h1.2v1.2h-1.2zM152.1 113.0h1.2v1.2h-1.2zM152.3 112.6h1.2v1.2h-1.2zM153.0 114.4h1.2v1.2h-1.2zM153.4 119.4h1.2v1.2h-1.2zM154.8 119.4h1.2v1.2h-1.2zM153.1 120.5h1.2v1.2h-1.2zM146.8 117.7h1.2v1.2h-1.2zM152.9 114.7h1.2v1.2h-1.2zM153.6 115.5h1.2v1.2h-1.2zM153.8 121.3h1.2v1.2h-1.2zM149.0 121.9h1.2v1.2h-1.2zM148.8 120.4h1.2v1.2h-1.2zM155.7 125.8h1.2v1.2h-1.2zM148.8 125.7h1.2v1.2h-1.2zM156.5 121.2h1.2v1.2h-1.2zM151.3 128.1h1.2v1.2h-1.2zM155.4 111.9h1.2v1.2h-1.2zM152.6 119.2h1.2v1.2h-1.2zM152.4 128.7h1.2v1.2h-1.2zM153.3 124.9h1.2v1.2h-1.2zM150.8 114.1h1.2v1.2h-1.2zM152.8 121.1h1.2v1.2h-1.2zM156.3 127.6h1.2v1.2h-1.2zM149.3 122.7h1.2v1.2h-1.2zM151.7 116.7h1.2v1.2h-1.2zM153.1 118.9h1.2v1.2h-1.2zM154.0 116.6h1.2v1.2h-1.2zM155.1 117.9h1.2v1.2h-1.2zM153.2 115.8h1.2v1.2h-1.2zM154.0 115.0h1.2v1.2h-1.2zM150.0 122.5h1.2v1.2h-1.2zM153.6 121.2h1.2v1.2h-1.2zM154.2 114.8h1.2v1.2h-1.2zM148.7 123.5h1.2v1.2h-1.2zM152.3 121.7h1.2v1.2h-1.2zM152.2 123.3h1.2v1.2h-1.2zM149.5 123.3h1.2v1.2h-1.2zM148.0 119.2h1.2v1.2h-1.2zM155.4 121.5h1.2v1.2h-1.2zM154.3 115.6h1.2v1.2h-1.2zM155.0 120.0h1.2v1.2h-1.2zM153.9 122.5h1.2v1.2h-1.2zM153.0 116.3h1.2v1.2h-1.2zM153.9 122.7h1.2v1.2h-1.2zM152.8 121.8h1.2v1.2h-1.2zM151.6 119.2h1.2v1.2h-1.2zM154.3 120.8h1.2v1.2h-1.2zM147.1 119.5h1.2v1.2h-1.2zM152.1 117.7h1.2v1.2h-1.2zM151.7 126.6h1.2v1.2h-1.2zM149.5 113.8h1.2v1.2h-1.2zM157.6 117.2h1.2v1.2h-1.2zM155.3 126.9h1.2v1.2h-1.2zM151.3 117.6h1.2v1.2h-1.2zM153.0 127.6h1.2v1.2h-1.2zM152.6 120.5h1.2v1.2h-1.2zM149.8 129.4h1.2v1.2h-1.2zM150.2 117.5h1.2v1.2h-1.2zM153.6 118.5h1.2v1.2h-1.2zM151.8 118.6h1.2v1.2h-1.2zM152.5 113.5h1.2v1.2h-1.2zM154.1 124.0h1.2v1.2h-1.2zM151.7 116.6h1.2v1.2h-1.2zM154.5 117.3h1.2v1.2h-1.2zM152.3 116.4h1.2v1.2h-1.2zM150.2 117.1h1.2v1.2h-1.2zM151.7 115.7h1.2v1.2h-1.2zM150.7 116.2h1.2v1.2h-1.2zM152.5 114.8h1.2v1.2h-1.2zM155.3 108.7h1.2v1.2h-1.2zM153.8 109.5h1.2v1.2h-1.2zM149.5 121.7h1.2v1.2h-1.2zM152.5 118.9h1.2v1.2h-1.2zM151.1 111.6h1.2v1.2h-1.2zM153.2 117.9h1.2v1.2h-1.2zM153.9 117.6h1.2v1.2h-1.2zM152.8 118.4h1.2v1.2h-1.2zM153.5 111.8h1.2v1.2h-1.2zM154.2 115.4h1.2v1.2h-1.2zM152.6 116.0h1.2v1.2h-1.2zM153.7 115.9h1.2v1.2h-1.2zM150.9 116.8h1.2v1.2h-1.2zM154.4 115.5h1.2v1.2h-1.2zM154.6 116.6h1.2v1.2h-1.2zM151.8 123.1h1.2v1.2h-1.2zM151.5 130.1h1.2v1.2h-1.2zM151.5 117.0h1.2v1.2h-1.2zM153.9 116.0h1.2v1.2h-1.2zM151.2 118.1h1.2v1.2h-1.2zM152.6 115.8h1.2v1.2h-1.2zM151.7 117.9h1.2v1.2h-1.2zM152.6 116.4h1.2v1.2h-1.2zM152.1 114.6h1.2v1.2h-1.2zM150.6 117.4h1.2v1.2h-1.2zM152.8 114.6h1.2v1.2h-1.2zM152.3 118.3h1.2v1.2h-1.2zM153.5 116.2h1.2v1.2h-1.2zM153.0 120.0h1.2v1.2h-1.2zM150.8 112.4h1.2v1.2h-1.2zM153.4 117.6h1.2v1.2h-1.2zM152.7 120.8h1.2v1.2h-1.2zM151.0 117.3h1.2v1.2h-1.2zM154.8 113.5h1.2v1.2h-1.2zM156.2 110.1h1.2v1.2h-1.2zM150.5 124.8h1.2v1.2h-1.2zM152.1 117.1h1.2v1.2h-1.2zM153.3 115.8h1.2v1.2h-1.2zM153.7 117.0h1.2v1.2h-1.2zM149.9 125.3h1.2v1.2h-1.2zM154.1 114.0h1.2v1.2h-1.2zM150.2 114.7h1.2v1.2h-1.2zM154.3 111.8h1.2v1.2h-1.2zM151.9 116.2h1.2v1.2h-1.2zM151.6 121.7h1.2v1.2h-1.2zM151.2 112.8h1.2v1.2h-1.2zM156.5 111.7h1.2v1.2h-1.2zM152.5 117.9h1.2v1.2h-1.2zM154.6 114.0h1.2v1.2h-1.2zM152.5 121.6h1.2v1.2h-1.2zM152.0 119.1h1.2v1.2h-1.2zM150.8 119.5h1.2v1.2h-1.2zM152.6 115.2h1.2v1.2h-1.2zM153.5 111.5h1.2v1.2h-1.2zM150.4 117.0h1.2v1.2h-1.2zM152.8 116.0h1.2v1.2h-1.2zM150.4 116.9h1.2v1.2h-1.2zM153.1 111.5h1.2v1.2h-1.2zM152.4 124.9h1.2v1.2h-1.2zM153.3 114.0h1.2v1.2h-1.2zM148.7 119.6h1.2v1.2h-1.2zM152.3 120.1h1.2v1.2h-1.2zM155.8 115.3h1.2v1.2h-1.2zM151.7 122.3h1.2v1.2h-1.2zM150.5 120.3h1.2v1.2h-1.2zM153.0 114.7h1.2v1.2h-1.2zM152.3 119.0h1.2v1.2h-1.2zM152.4 117.4h1.2v1.2h-1.2zM155.4 121.9h1.2v1.2h-1.2zM152.9 117.5h1.2v1.2h-1.2zM149.3 108.2h1.2v1.2h-1.2zM152.4 113.7h1.2v1.2h-1.2zM155.4 111.3h1.2v1.2h-1.2zM154.4 123.0h1.2v1.2h-1.2zM159.5 119.8h1.2v1.2h-1.2zM154.8 121.9h1.2v1.2h-1.2zM161.2 117.1h1.2v1.2h-1.2zM159.4 111.6h1.2v1.2h-1.2zM153.0 109.6h1.2v1.2h-1.2zM157.1 117.1h1.2v1.2h-1.2zM156.4 112.8h1.2v1.2h-1.2zM150.8 126.5h1.2v1.2h-1.2zM151.1 109.0h1.2v1.2h-1.2zM159.6 113.4h1.2v1.2h-1.2zM154.4 117.9h1.2v1.2h-1.2zM149.6 113.1h1.2v1.2h-1.2zM153.6 118.9h1.2v1.2h-1.2zM156.7 117.9h1.2v1.2h-1.2zM154.6 116.5h1.2v1.2h-1.2zM153.4 121.2h1.2v1.2h-1.2zM157.4 101.3h1.2v1.2h-1.2zM156.1 117.9h1.2v1.2h-1.2zM165.2 114.7h1.2v1.2h-1.2zM155.0 121.5h1.2v1.2h-1.2zM151.6 115.2h1.2v1.2h-1.2zM149.9 118.6h1.2v1.2h-1.2zM153.8 118.7h1.2v1.2h-1.2zM155.8 119.2h1.2v1.2h-1.2zM157.3 122.5h1.2v1.2h-1.2zM155.0 112.9h1.2v1.2h-1.2zM158.9 109.5h1.2v1.2h-1.2zM150.4 121.2h1.2v1.2h-1.2zM153.6 129.1h1.2v1.2h-1.2zM153.7 116.0h1.2v1.2h-1.2zM155.2 124.7h1.2v1.2h-1.2zM148.3 120.9h1.2v1.2h-1.2zM152.0 126.5h1.2v1.2h-1.2zM155.8 115.0h1.2v1.2h-1.2zM153.1 114.5h1.2v1.2h-1.2zM156.1 107.4h1.2v1.2h-1.2zM156.5 113.6h1.2v1.2h-1.2zM157.3 122.8h1.2v1.2h-1.2zM153.1 115.2h1.2v1.2h-1.2zM153.8 124.0h1.2v1.2h-1.2zM156.8 123.0h1.2v1.2h-1.2zM153.2 121.0h1.2v1.2h-1.2zM149.5 118.5h1.2v1.2h-1.2zM154.8 115.7h1.2v1.2h-1.2zM155.4 113.2h1.2v1.2h-1.2zM150.6 123.7h1.2v1.2h-1.2zM155.1 109.7h1.2v1.2h-1.2zM157.2 115.7h1.2v1.2h-1.2zM150.0 123.3h1.2v1.2h-1.2zM153.3 120.0h1.2v1.2h-1.2zM152.2 126.1h1.2v1.2h-1.2zM159.8 110.7h1.2v1.2h-1.2zM161.5 116.9h1.2v1.2h-1.2zM151.8 120.8h1.2v1.2h-1.2zM154.9 115.2h1.2v1.2h-1.2zM153.8 115.1h1.2v1.2h-1.2zM157.9 120.4h1.2v1.2h-1.2zM155.8 128.5h1.2v1.2h-1.2zM158.8 114.0h1.2v1.2h-1.2zM154.2 119.7h1.2v1.2h-1.2zM150.3 115.2h1.2v1.2h-1.2zM148.5 121.9h1.2v1.2h-1.2zM149.0 113.2h1.2v1.2h-1.2zM155.1 118.6h1.2v1.2h-1.2zM150.0 119.7h1.2v1.2h-1.2zM151.6 124.6h1.2v1.2h-1.2zM153.4 121.7h1.2v1.2h-1.2zM148.5 116.1h1.2v1.2h-1.2zM156.7 112.2h1.2v1.2h-1.2zM145.4 118.1h1.2v1.2h-1.2zM160.1 115.8h1.2v1.2h-1.2zM156.3 121.6h1.2v1.2h-1.2zM153.8 113.1h1.2v1.2h-1.2zM163.0 124.0h1.2v1.2h-1.2zM163.6 110.9h1.2v1.2h-1.2zM157.1 112.2h1.2v1.2h-1.2zM161.6 112.3h1.2v1.2h-1.2zM162.0 107.7h1.2v1.2h-1.2zM160.6 111.9h1.2v1.2h-1.2zM160.7 112.1h1.2v1.2h-1.2zM163.1 111.3h1.2v1.2h-1.2zM160.5 115.2h1.2v1.2h-1.2zM163.1 112.3h1.2v1.2h-1.2zM163.9 112.1h1.2v1.2h-1.2zM155.3 110.7h1.2v1.2h-1.2zM163.1 112.7h1.2v1.2h-1.2zM162.4 109.2h1.2v1.2h-1.2zM161.0 112.5h1.2v1.2h-1.2zM162.4 117.4h1.2v1.2h-1.2zM164.1 112.6h1.2v1.2h-1.2zM161.6 106.9h1.2v1.2h-1.2zM165.4 110.1h1.2v1.2h-1.2zM166.7 110.7h1.2v1.2h-1.2zM161.0 113.9h1.2v1.2h-1.2zM160.8 108.0h1.2v1.2h-1.2zM163.6 112.5h1.2v1.2h-1.2zM163.7 111.2h1.2v1.2h-1.2zM163.3 109.7h1.2v1.2h-1.2zM149.3 132.0h1.2v1.2h-1.2zM144.5 131.5h1.2v1.2h-1.2zM151.2 134.1h1.2v1.2h-1.2zM148.9 131.4h1.2v1.2h-1.2zM149.3 127.6h1.2v1.2h-1.2zM149.9 132.5h1.2v1.2h-1.2zM150.7 125.3h1.2v1.2h-1.2zM149.1 129.8h1.2v1.2h-1.2zM149.5 126.5h1.2v1.2h-1.2zM152.5 126.2h1.2v1.2h-1.2zM147.9 134.5h1.2v1.2h-1.2zM149.8 128.1h1.2v1.2h-1.2zM148.3 131.9h1.2v1.2h-1.2zM148.4 132.0h1.2v1.2h-1.2zM150.2 131.2h1.2v1.2h-1.2zM150.7 128.6h1.2v1.2h-1.2zM147.1 125.9h1.2v1.2h-1.2zM149.3 128.1h1.2v1.2h-1.2zM151.8 127.7h1.2v1.2h-1.2zM151.9 129.8h1.2v1.2h-1.2zM149.4 125.2h1.2v1.2h-1.2zM149.3 133.8h1.2v1.2h-1.2zM167.8 132.5h1.2v1.2h-1.2zM171.4 128.5h1.2v1.2h-1.2zM168.7 131.9h1.2v1.2h-1.2zM168.5 132.1h1.2v1.2h-1.2zM170.6 126.6h1.2v1.2h-1.2zM172.9 127.8h1.2v1.2h-1.2zM168.7 128.9h1.2v1.2h-1.2zM169.1 129.7h1.2v1.2h-1.2zM170.5 127.6h1.2v1.2h-1.2zM168.2 131.1h1.2v1.2h-1.2zM169.2 128.0h1.2v1.2h-1.2zM170.0 128.4h1.2v1.2h-1.2zM167.3 126.2h1.2v1.2h-1.2zM168.6 127.0h1.2v1.2h-1.2zM166.8 134.5h1.2v1.2h-1.2zM150.4 150.0h1.2v1.2h-1.2zM137.6 155.3h1.2v1.2h-1.2zM139.2 155.0h1.2v1.2h-1.2zM140.5 155.4h1.2v1.2h-1.2zM141.5 154.8h1.2v1.2h-1.2zM166.0 118.0h1.2v1.2h-1.2zM167.5 122.0h1.2v1.2h-1.2z" fill="#111"/>
<line x1="106.5" y1="39.2" x2="77.2" y2="39.2" stroke="#222" stroke-width="1.1"/>
<path d="M69.8 39.2L78.2 35.3L78.2 43.1z" fill="#222"/>
<line x1="195.2" y1="40.8" x2="166.0" y2="40.8" stroke="#222" stroke-width="1.1"/>
<path d="M158.6 40.8L167.0 36.9L167.0 44.7z" fill="#222"/>
<line x1="113.6" y1="112.1" x2="84.6" y2="112.1" stroke="#222" stroke-width="1.1"/>
<path d="M77.2 112.1L85.6 108.2L85.6 116.0z" fill="#222"/>
<line x1="205.4" y1="112.4" x2="176.6" y2="112.4" stroke="#222" stroke-width="1.1"/>
<path d="M169.2 112.4L177.6 108.5L177.6 116.3z" fill="#222"/>
<text x="79.6" y="34.3" font-size="13.5" text-anchor="start" >17.2</text>
<text x="174.8" y="35.4" font-size="12.8" text-anchor="start" >13.9</text>
<text x="84.6" y="105.6" font-size="13.0" text-anchor="start" >26.6</text>
<text x="177.6" y="108.5" font-size="12.8" text-anchor="start" >13.2</text>
<text x="46.0" y="12.1" font-size="13.0" text-anchor="start" >medium</text>
<text x="127.6" y="10.2" font-size="13.0" text-anchor="start" >oligomycin</text>
<text x="215.0" y="56.3" font-size="13.0" text-anchor="start" >resting</text>
<text x="216.5" y="134.4" font-size="13.0" text-anchor="start" >activated</text>
<text x="2.5" y="117.8" font-size="13.0" text-anchor="start" >red</text>
<text x="6.3" y="176.2" font-size="12.6" text-anchor="start" >JC-1</text>
<text x="80.6" y="175.8" font-size="12.6" text-anchor="start" >green</text>
<line x1="14.7" y1="161.8" x2="14.7" y2="140" stroke="#222" stroke-width="1.3"/>
<path d="M14.7 132.8L11.1 141.6L18.3 141.6z" fill="#222"/>
<line x1="32.7" y1="171.1" x2="58" y2="171.1" stroke="#222" stroke-width="1.3"/>
<path d="M65.2 171.1L56.6 167.5L56.6 174.7z" fill="#222"/>
<line x1="340.4" y1="25.6" x2="494.2" y2="25.6" stroke="#777" stroke-width="0.9"/>
<line x1="340.4" y1="69.1" x2="494.2" y2="69.1" stroke="#5a5a5a" stroke-width="1"/>
<line x1="340.4" y1="112.7" x2="494.2" y2="112.7" stroke="#5a5a5a" stroke-width="1"/>
<line x1="494.2" y1="25.6" x2="494.2" y2="156.3" stroke="#8a8a8a" stroke-width="0.9"/>
<defs><pattern id="ht" width="2" height="2" patternUnits="userSpaceOnUse"><rect width="2" height="2" fill="#ebebeb"/><rect width="1" height="1" fill="#dadada"/></pattern></defs>
<line x1="361.7" y1="120.2" x2="361.7" y2="125.4" stroke="#333" stroke-width="0.9"/>
<line x1="359.3" y1="120.2" x2="364.1" y2="120.2" stroke="#333" stroke-width="0.9"/>
<rect x="353.3" y="125.4" width="16.8" height="30.9" fill="url(#ht)" stroke="#777" stroke-width="0.7"/>
<line x1="379.0" y1="103.0" x2="379.0" y2="110.0" stroke="#333" stroke-width="0.9"/>
<line x1="376.6" y1="103.0" x2="381.4" y2="103.0" stroke="#333" stroke-width="0.9"/>
<rect x="370.1" y="110.0" width="17.7" height="46.3" fill="#000" stroke="#000" stroke-width="0.7"/>
<line x1="396.2" y1="115.0" x2="396.2" y2="121.5" stroke="#333" stroke-width="0.9"/>
<line x1="393.9" y1="115.0" x2="398.6" y2="115.0" stroke="#333" stroke-width="0.9"/>
<rect x="387.8" y="121.5" width="16.9" height="34.8" fill="#868686" stroke="#555" stroke-width="0.7"/>
<line x1="438.3" y1="106.4" x2="438.3" y2="112.9" stroke="#333" stroke-width="0.9"/>
<line x1="435.9" y1="106.4" x2="440.7" y2="106.4" stroke="#333" stroke-width="0.9"/>
<rect x="429.8" y="112.9" width="17.0" height="43.4" fill="url(#ht)" stroke="#777" stroke-width="0.7"/>
<line x1="455.3" y1="26.4" x2="455.3" y2="37.3" stroke="#333" stroke-width="0.9"/>
<line x1="452.9" y1="26.4" x2="457.7" y2="26.4" stroke="#333" stroke-width="0.9"/>
<rect x="446.8" y="37.3" width="17.0" height="119.0" fill="#000" stroke="#000" stroke-width="0.7"/>
<line x1="472.2" y1="67.3" x2="472.2" y2="75.0" stroke="#333" stroke-width="0.9"/>
<line x1="469.9" y1="67.3" x2="474.6" y2="67.3" stroke="#333" stroke-width="0.9"/>
<rect x="463.8" y="75.0" width="16.9" height="81.3" fill="#868686" stroke="#555" stroke-width="0.7"/>
<line x1="340.4" y1="25.6" x2="340.4" y2="158.3" stroke="#4a4a4a" stroke-width="1"/>
<line x1="340.4" y1="156.3" x2="494.2" y2="156.3" stroke="#4a4a4a" stroke-width="1"/>
<line x1="338.4" y1="25.6" x2="340.4" y2="25.6" stroke="#333" stroke-width="0.9"/>
<text x="334.3" y="28.5" font-size="7.8" text-anchor="end" fill="#4a4a4a" stroke="none">50</text>
<line x1="338.4" y1="69.1" x2="340.4" y2="69.1" stroke="#333" stroke-width="0.9"/>
<text x="334.3" y="72.0" font-size="7.8" text-anchor="end" fill="#4a4a4a" stroke="none">40</text>
<line x1="338.4" y1="112.7" x2="340.4" y2="112.7" stroke="#333" stroke-width="0.9"/>
<text x="334.3" y="115.6" font-size="7.8" text-anchor="end" fill="#4a4a4a" stroke="none">30</text>
<line x1="338.4" y1="156.3" x2="340.4" y2="156.3" stroke="#333" stroke-width="0.9"/>
<text x="334.3" y="159.2" font-size="7.8" text-anchor="end" fill="#4a4a4a" stroke="none">20</text>
<line x1="417.2" y1="156.3" x2="417.2" y2="158.6" stroke="#333" stroke-width="0.9"/>
<line x1="494.2" y1="156.3" x2="494.2" y2="158.6" stroke="#333" stroke-width="0.9"/>
<text x="362.8" y="173.8" font-size="13.0" text-anchor="start" >resting</text>
<text x="434.0" y="175.9" font-size="13.0" text-anchor="start" >activated</text>
<text transform="translate(297.6,131.8) rotate(-90)" font-size="13">p53 (10<tspan font-size="8" dy="-4.5">-3 </tspan><tspan dy="4.5">MESF)</tspan></text>
<line x1="46.20" y1="226.8" x2="46.20" y2="357.9" stroke="#222" stroke-opacity="0.52" stroke-width="0.9"/>
<line x1="46.2" y1="226.80" x2="220.0" y2="226.80" stroke="#222" stroke-opacity="0.6" stroke-width="0.9"/>
<line x1="62.00" y1="226.8" x2="62.00" y2="357.9" stroke="#222" stroke-opacity="0.52" stroke-width="0.9"/>
<line x1="46.2" y1="238.72" x2="220.0" y2="238.72" stroke="#222" stroke-opacity="0.6" stroke-width="0.9"/>
<line x1="77.80" y1="226.8" x2="77.80" y2="357.9" stroke="#222" stroke-opacity="0.52" stroke-width="0.9"/>
<line x1="46.2" y1="250.64" x2="220.0" y2="250.64" stroke="#222" stroke-opacity="0.6" stroke-width="0.9"/>
<line x1="93.60" y1="226.8" x2="93.60" y2="357.9" stroke="#222" stroke-opacity="0.52" stroke-width="0.9"/>
<line x1="46.2" y1="262.56" x2="220.0" y2="262.56" stroke="#222" stroke-opacity="0.6" stroke-width="0.9"/>
<line x1="109.40" y1="226.8" x2="109.40" y2="357.9" stroke="#222" stroke-opacity="0.52" stroke-width="0.9"/>
<line x1="46.2" y1="274.48" x2="220.0" y2="274.48" stroke="#222" stroke-opacity="0.6" stroke-width="0.9"/>
<line x1="125.20" y1="226.8" x2="125.20" y2="357.9" stroke="#222" stroke-opacity="0.52" stroke-width="0.9"/>
<line x1="46.2" y1="286.40" x2="220.0" y2="286.40" stroke="#222" stroke-opacity="0.6" stroke-width="0.9"/>
<line x1="141.00" y1="226.8" x2="141.00" y2="357.9" stroke="#222" stroke-opacity="0.52" stroke-width="0.9"/>
<line x1="46.2" y1="298.32" x2="220.0" y2="298.32" stroke="#222" stroke-opacity="0.6" stroke-width="0.9"/>
<line x1="156.80" y1="226.8" x2="156.80" y2="357.9" stroke="#222" stroke-opacity="0.52" stroke-width="0.9"/>
<line x1="46.2" y1="310.24" x2="220.0" y2="310.24" stroke="#222" stroke-opacity="0.6" stroke-width="0.9"/>
<line x1="172.60" y1="226.8" x2="172.60" y2="357.9" stroke="#222" stroke-opacity="0.52" stroke-width="0.9"/>
<line x1="46.2" y1="322.16" x2="220.0" y2="322.16" stroke="#222" stroke-opacity="0.6" stroke-width="0.9"/>
<line x1="188.40" y1="226.8" x2="188.40" y2="357.9" stroke="#222" stroke-opacity="0.52" stroke-width="0.9"/>
<line x1="46.2" y1="334.08" x2="220.0" y2="334.08" stroke="#222" stroke-opacity="0.6" stroke-width="0.9"/>
<line x1="204.20" y1="226.8" x2="204.20" y2="357.9" stroke="#222" stroke-opacity="0.52" stroke-width="0.9"/>
<line x1="46.2" y1="346.00" x2="220.0" y2="346.00" stroke="#222" stroke-opacity="0.6" stroke-width="0.9"/>
<line x1="220.00" y1="226.8" x2="220.00" y2="357.9" stroke="#222" stroke-opacity="0.52" stroke-width="0.9"/>
<line x1="46.2" y1="357.92" x2="220.0" y2="357.92" stroke="#222" stroke-opacity="0.6" stroke-width="0.9"/>
<path d="M50.2 345.6H58.2M54.2 341.6V349.6M50.2 344.1v3M58.2 344.1v3M52.7 341.6h3M52.7 349.6h3" stroke="#999" stroke-width="0.8" fill="none"/>
<path d="M54.2 341.3L58.1 345.6L54.2 349.9L50.3 345.6z" fill="#7f7f7f"/>
<path d="M58.0 339.8H66.0M62.0 336.8V342.8M58.0 338.3v3M66.0 338.3v3M60.5 336.8h3M60.5 342.8h3" stroke="#999" stroke-width="0.8" fill="none"/>
<path d="M62.0 335.5L65.9 339.8L62.0 344.1L58.1 339.8z" fill="#7f7f7f"/>
<path d="M63.8 336.3H75.8M69.8 331.3V341.3M63.8 334.8v3M75.8 334.8v3M68.3 331.3h3M68.3 341.3h3" stroke="#999" stroke-width="0.8" fill="none"/>
<path d="M69.8 332.0L73.7 336.3L69.8 340.6L65.9 336.3z" fill="#7f7f7f"/>
<path d="M63.8 340.6H75.8M69.8 337.6V343.6M63.8 339.1v3M75.8 339.1v3M68.3 337.6h3M68.3 343.6h3" stroke="#999" stroke-width="0.8" fill="none"/>
<path d="M69.8 336.3L73.7 340.6L69.8 344.9L65.9 340.6z" fill="#7f7f7f"/>
<path d="M67.6 345.6H83.6M75.6 341.6V349.6M67.6 344.1v3M83.6 344.1v3M74.1 341.6h3M74.1 349.6h3" stroke="#999" stroke-width="0.8" fill="none"/>
<path d="M75.6 341.3L79.5 345.6L75.6 349.9L71.7 345.6z" fill="#7f7f7f"/>
<path d="M85.5 328.2H101.5M93.5 325.2V331.2M85.5 326.7v3M101.5 326.7v3M92.0 325.2h3M92.0 331.2h3" stroke="#999" stroke-width="0.8" fill="none"/>
<path d="M93.5 323.9L97.4 328.2L93.5 332.5L89.6 328.2z" fill="#7f7f7f"/>
<path d="M112.9 324.2H128.9M120.9 319.2V329.2M112.9 322.7v3M128.9 322.7v3M119.4 319.2h3M119.4 329.2h3" stroke="#999" stroke-width="0.8" fill="none"/>
<path d="M120.9 319.9L124.8 324.2L120.9 328.5L117.0 324.2z" fill="#7f7f7f"/>
<path d="M119.2 350.4H135.2M127.2 346.4V354.4M119.2 348.9v3M135.2 348.9v3M125.7 346.4h3M125.7 354.4h3" stroke="#999" stroke-width="0.8" fill="none"/>
<path d="M127.2 346.1L131.1 350.4L127.2 354.7L123.3 350.4z" fill="#7f7f7f"/>
<path d="M128.9 345.6H140.9M134.9 342.6V348.6M128.9 344.1v3M140.9 344.1v3M133.4 342.6h3M133.4 348.6h3" stroke="#999" stroke-width="0.8" fill="none"/>
<path d="M134.9 341.3L138.8 345.6L134.9 349.9L131.0 345.6z" fill="#7f7f7f"/>
<path d="M132.7 339.8H148.7M140.7 336.8V342.8M132.7 338.3v3M148.7 338.3v3M139.2 336.8h3M139.2 342.8h3" stroke="#999" stroke-width="0.8" fill="none"/>
<path d="M140.7 335.5L144.6 339.8L140.7 344.1L136.8 339.8z" fill="#7f7f7f"/>
<path d="M148.3 316.1H164.3M156.3 313.1V319.1M148.3 314.6v3M164.3 314.6v3M154.8 313.1h3M154.8 319.1h3" stroke="#999" stroke-width="0.8" fill="none"/>
<path d="M156.3 311.8L160.2 316.1L156.3 320.4L152.4 316.1z" fill="#7f7f7f"/>
<path d="M178.8 334.0H196.8M187.8 328.0V340.0M178.8 332.5v3M196.8 332.5v3M186.3 328.0h3M186.3 340.0h3" stroke="#999" stroke-width="0.8" fill="none"/>
<path d="M187.8 329.7L191.7 334.0L187.8 338.3L183.9 334.0z" fill="#7f7f7f"/>
<text x="25.2" y="230.1" font-size="13.0" text-anchor="start" >3.0</text>
<text x="25.3" y="289.6" font-size="13.0" text-anchor="start" >2.0</text>
<text x="25.2" y="345.5" font-size="13.0" text-anchor="start" >1.0</text>
<text x="56.9" y="369.2" font-size="13.0" text-anchor="start" >1.0</text>
<text x="133.9" y="370.8" font-size="13.0" text-anchor="start" >2.0</text>
<text x="214.5" y="369.5" font-size="13.0" text-anchor="start" >3.0</text>
<text x="102" y="392.8" font-size="13">p53<tspan font-size="8.4" dy="-5">drug</tspan><tspan dy="5"> / p53</tspan><tspan font-size="8.4" dy="-5">med</tspan></text>
<text transform="translate(14.2,336.2) rotate(-90)" font-size="13">p53<tspan font-size="8.8" dy="-5">drug +olig</tspan><tspan dy="5">/ p53 </tspan><tspan font-size="8.8" dy="-5" dx="1">olig</tspan></text>
<line x1="331.10" y1="217.5" x2="331.10" y2="355.6" stroke="#222" stroke-opacity="0.52" stroke-width="0.9"/>
<line x1="347.72" y1="217.5" x2="347.72" y2="355.6" stroke="#222" stroke-opacity="0.52" stroke-width="0.9"/>
<line x1="364.34" y1="217.5" x2="364.34" y2="355.6" stroke="#222" stroke-opacity="0.52" stroke-width="0.9"/>
<line x1="380.96" y1="217.5" x2="380.96" y2="355.6" stroke="#222" stroke-opacity="0.52" stroke-width="0.9"/>
<line x1="397.58" y1="217.5" x2="397.58" y2="355.6" stroke="#222" stroke-opacity="0.52" stroke-width="0.9"/>
<line x1="414.20" y1="217.5" x2="414.20" y2="355.6" stroke="#222" stroke-opacity="0.52" stroke-width="0.9"/>
<line x1="430.82" y1="217.5" x2="430.82" y2="355.6" stroke="#222" stroke-opacity="0.52" stroke-width="0.9"/>
<line x1="447.44" y1="217.5" x2="447.44" y2="355.6" stroke="#222" stroke-opacity="0.52" stroke-width="0.9"/>
<line x1="464.06" y1="217.5" x2="464.06" y2="355.6" stroke="#222" stroke-opacity="0.52" stroke-width="0.9"/>
<line x1="480.68" y1="217.5" x2="480.68" y2="355.6" stroke="#222" stroke-opacity="0.52" stroke-width="0.9"/>
<line x1="497.30" y1="217.5" x2="497.30" y2="355.6" stroke="#222" stroke-opacity="0.52" stroke-width="0.9"/>
<line x1="513.92" y1="217.5" x2="513.92" y2="355.6" stroke="#222" stroke-opacity="0.52" stroke-width="0.9"/>
<line x1="331.1" y1="217.50" x2="513.9" y2="217.50" stroke="#222" stroke-opacity="0.6" stroke-width="0.9"/>
<line x1="331.1" y1="234.76" x2="513.9" y2="234.76" stroke="#222" stroke-opacity="0.6" stroke-width="0.9"/>
<line x1="331.1" y1="252.02" x2="513.9" y2="252.02" stroke="#222" stroke-opacity="0.6" stroke-width="0.9"/>
<line x1="331.1" y1="269.28" x2="513.9" y2="269.28" stroke="#222" stroke-opacity="0.6" stroke-width="0.9"/>
<line x1="331.1" y1="286.54" x2="513.9" y2="286.54" stroke="#222" stroke-opacity="0.6" stroke-width="0.9"/>
<line x1="331.1" y1="303.80" x2="513.9" y2="303.80" stroke="#222" stroke-opacity="0.6" stroke-width="0.9"/>
<line x1="331.1" y1="321.06" x2="513.9" y2="321.06" stroke="#222" stroke-opacity="0.6" stroke-width="0.9"/>
<line x1="331.1" y1="338.32" x2="513.9" y2="338.32" stroke="#222" stroke-opacity="0.6" stroke-width="0.9"/>
<line x1="331.1" y1="355.58" x2="513.9" y2="355.58" stroke="#222" stroke-opacity="0.6" stroke-width="0.9"/>
<path d="M360.2 261.7H376.2M360.2 260.2v3M376.2 260.2v3" stroke="#999" stroke-width="0.8" fill="none"/>
<path d="M368.2 257.4L372.1 261.7L368.2 266.0L364.3 261.7z" fill="#7f7f7f"/>
<path d="M373.5 293.2H389.5M373.5 291.7v3M389.5 291.7v3" stroke="#999" stroke-width="0.8" fill="none"/>
<path d="M381.5 288.9L385.4 293.2L381.5 297.5L377.6 293.2z" fill="#7f7f7f"/>
<path d="M440.9 244.8H456.9M440.9 243.3v3M456.9 243.3v3" stroke="#999" stroke-width="0.8" fill="none"/>
<path d="M448.9 240.5L452.8 244.8L448.9 249.1L445.0 244.8z" fill="#7f7f7f"/>
<path d="M340.5 316.4H356.5M340.5 314.9v3M356.5 314.9v3" stroke="#999" stroke-width="0.8" fill="none"/>
<path d="M348.5 312.1L352.4 316.4L348.5 320.7L344.6 316.4z" fill="#7f7f7f"/>
<path d="M350.6 322.2H360.6M350.6 320.7v3M360.6 320.7v3" stroke="#999" stroke-width="0.8" fill="none"/>
<path d="M355.6 317.9L359.5 322.2L355.6 326.5L351.7 322.2z" fill="#7f7f7f"/>
<path d="M330.4 338.1H340.4M330.4 336.6v3M340.4 336.6v3" stroke="#999" stroke-width="0.8" fill="none"/>
<path d="M335.4 333.8L339.3 338.1L335.4 342.4L331.5 338.1z" fill="#7f7f7f"/>
<path d="M337.0 343.1H353.0M337.0 341.6v3M353.0 341.6v3" stroke="#999" stroke-width="0.8" fill="none"/>
<path d="M345.0 338.8L348.9 343.1L345.0 347.4L341.1 343.1z" fill="#7f7f7f"/>
<path d="M352.1 350.7H368.1M352.1 349.2v3M368.1 349.2v3" stroke="#999" stroke-width="0.8" fill="none"/>
<path d="M360.1 346.4L364.0 350.7L360.1 355.0L356.2 350.7z" fill="#7f7f7f"/>
<path d="M370.5 338.1H388.5M370.5 336.6v3M388.5 336.6v3" stroke="#999" stroke-width="0.8" fill="none"/>
<path d="M379.5 333.8L383.4 338.1L379.5 342.4L375.6 338.1z" fill="#7f7f7f"/>
<path d="M391.2 311.6H407.2M391.2 310.1v3M407.2 310.1v3" stroke="#999" stroke-width="0.8" fill="none"/>
<path d="M399.2 307.3L403.1 311.6L399.2 315.9L395.3 311.6z" fill="#7f7f7f"/>
<path d="M460.3 307.8H476.3M460.3 306.3v3M476.3 306.3v3" stroke="#999" stroke-width="0.8" fill="none"/>
<path d="M468.3 303.5L472.2 307.8L468.3 312.1L464.4 307.8z" fill="#7f7f7f"/>
<line x1="331.1" y1="334.8" x2="510.9" y2="256.7" stroke="#111" stroke-width="1.2"/>
<text x="312.2" y="226.1" font-size="12.5" text-anchor="start" >25</text>
<text x="312.4" y="295.3" font-size="12.5" text-anchor="start" >15</text>
<text x="314.0" y="355.5" font-size="12.5" text-anchor="start" >5</text>
<text x="342.8" y="369.2" font-size="13.0" text-anchor="start" >1.0</text>
<text x="427.0" y="371.8" font-size="13.0" text-anchor="start" >2.0</text>
<text x="501.8" y="368.9" font-size="13.0" text-anchor="start" >3.0</text>
<text transform="translate(297.8,305.8) rotate(-90)" font-size="12.5">MTMP</text>
<text x="384.5" y="394" font-size="13">p53<tspan font-size="8.4" dy="-5">drug</tspan><tspan dy="5"> / p53</tspan><tspan font-size="8.4" dy="-5">med</tspan></text>
</g>
</svg></body></html>
